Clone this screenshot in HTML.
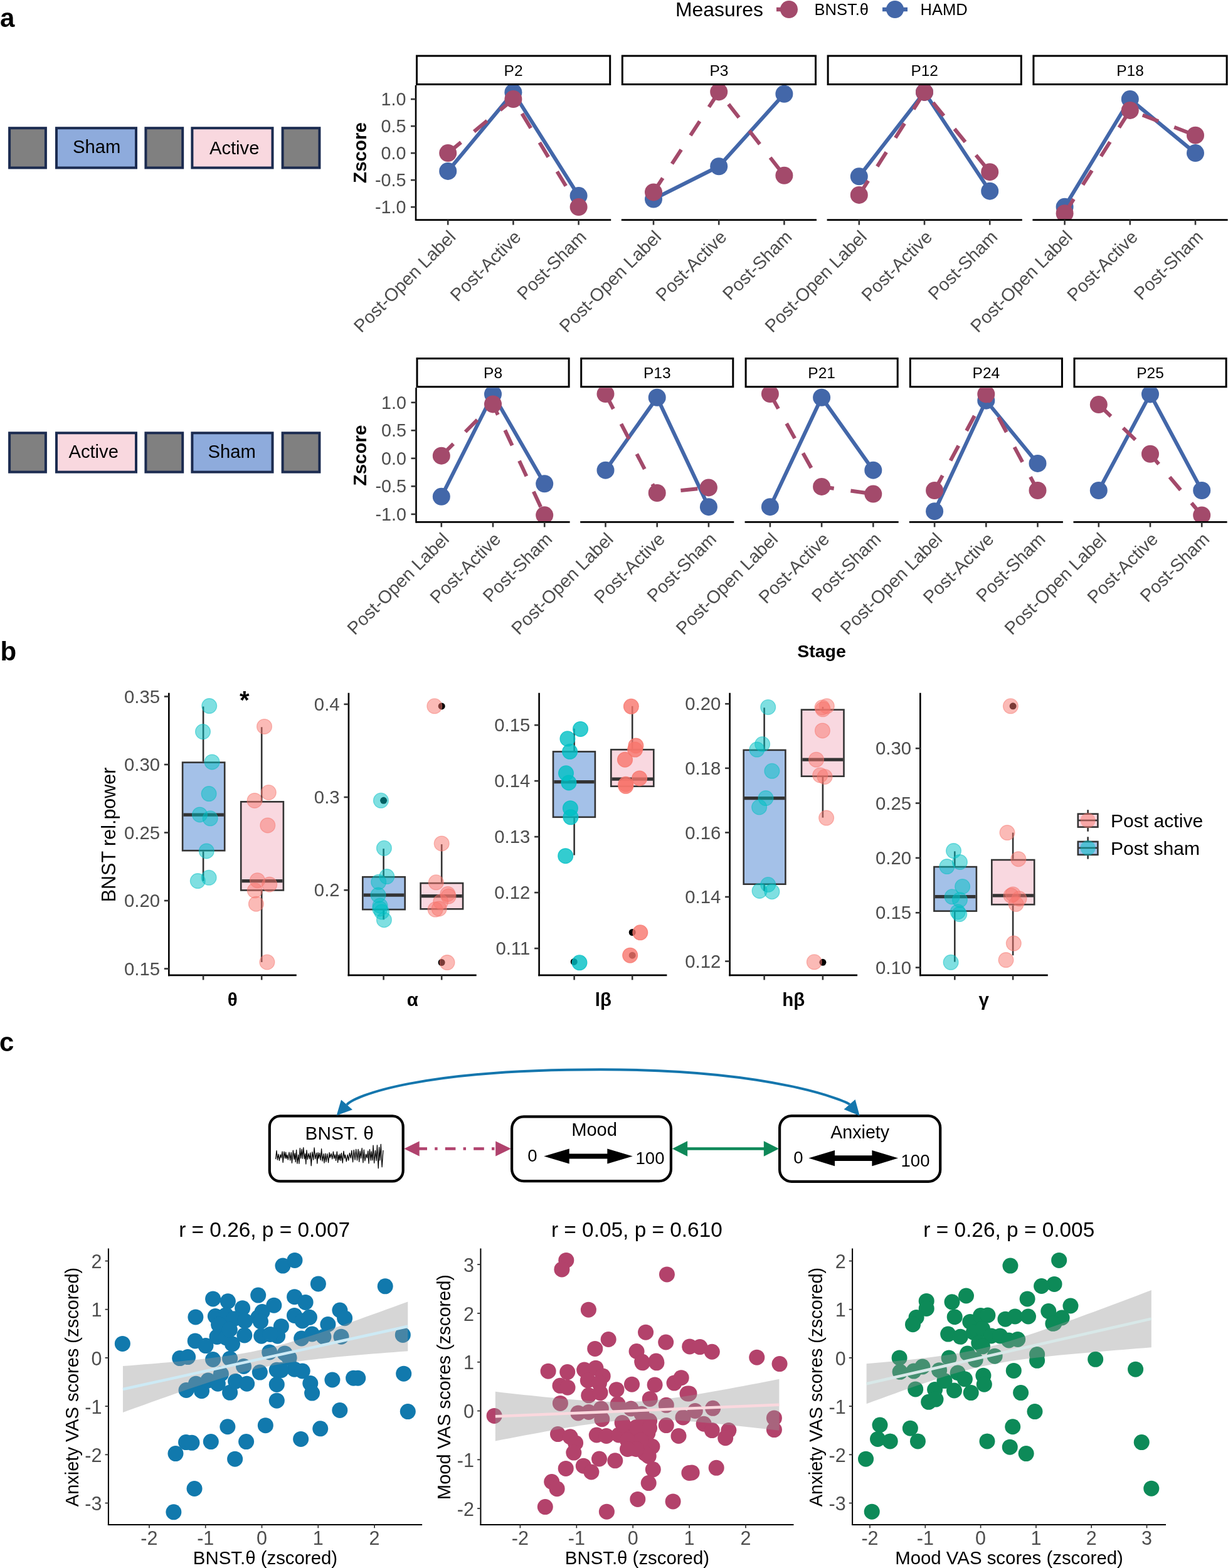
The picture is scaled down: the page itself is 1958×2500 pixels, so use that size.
<!DOCTYPE html>
<html><head><meta charset="utf-8"><style>
html,body{margin:0;padding:0;background:#fff;}
svg{display:block;}
text{font-family:'Liberation Sans', Arial, Helvetica, sans-serif;}
</style></head><body>
<svg width="1958" height="2500" viewBox="0 0 1958 2500">
<rect width="1958" height="2500" fill="#fff"/>
<text x="0" y="42.7" font-size="42" text-anchor="start" fill="#000" font-weight="bold">a</text>
<text x="0.5" y="1053.3" font-size="42" text-anchor="start" fill="#000" font-weight="bold">b</text>
<text x="-1" y="1676" font-size="42" text-anchor="start" fill="#000" font-weight="bold">c</text>
<rect x="15.1" y="204.2" width="57.8" height="63.3" fill="#808080" stroke="#1b2b50" stroke-width="4"/>
<rect x="90" y="204.2" width="127" height="63.3" fill="#8eabdc" stroke="#1b2b50" stroke-width="4"/>
<rect x="232.4" y="204.2" width="58.8" height="63.3" fill="#808080" stroke="#1b2b50" stroke-width="4"/>
<rect x="306.4" y="204.2" width="128.1" height="63.3" fill="#f9d8df" stroke="#1b2b50" stroke-width="4"/>
<rect x="450.6" y="204.2" width="58.8" height="63.3" fill="#808080" stroke="#1b2b50" stroke-width="4"/>
<rect x="15.1" y="690.3" width="57.8" height="62.3" fill="#808080" stroke="#1b2b50" stroke-width="4"/>
<rect x="90" y="690.3" width="127" height="62.3" fill="#f9d8df" stroke="#1b2b50" stroke-width="4"/>
<rect x="232.4" y="690.3" width="58.8" height="62.3" fill="#808080" stroke="#1b2b50" stroke-width="4"/>
<rect x="306.4" y="690.3" width="128.1" height="62.3" fill="#8eabdc" stroke="#1b2b50" stroke-width="4"/>
<rect x="450.6" y="690.3" width="58.8" height="62.3" fill="#808080" stroke="#1b2b50" stroke-width="4"/>
<text x="154.2" y="244" font-size="29.2" text-anchor="middle" fill="#000">Sham</text>
<text x="373.7" y="245.9" font-size="29.2" text-anchor="middle" fill="#000">Active</text>
<text x="149.2" y="730.1" font-size="29.2" text-anchor="middle" fill="#000">Active</text>
<text x="369.6" y="730.1" font-size="29.2" text-anchor="middle" fill="#000">Sham</text>
<text x="1077" y="25.8" font-size="31.9" text-anchor="start" fill="#000">Measures</text>
<line x1="1238" y1="15" x2="1266" y2="15" stroke="#a34a6b" stroke-width="6.5"/>
<circle cx="1258" cy="15" r="14" fill="#a34a6b"/>
<line x1="1407" y1="15" x2="1447" y2="15" stroke="#4367a9" stroke-width="6.5"/>
<circle cx="1427" cy="15" r="14" fill="#4367a9"/>
<text x="1298.5" y="24" font-size="25.5" text-anchor="start" fill="#000">BNST.θ</text>
<text x="1467.5" y="24" font-size="25.5" text-anchor="start" fill="#000">HAMD</text>
<rect x="664.5" y="89.1" width="308.2" height="45.4" fill="#fff" stroke="#000" stroke-width="3"/>
<text x="818.6" y="120.7" font-size="24.5" text-anchor="middle" fill="#000">P2</text>
<clipPath id="ca0"><rect x="663" y="136" width="311.2" height="214.6"/></clipPath>
<g clip-path="url(#ca0)">
<polyline points="714.2,272.91 818.4,147.26 922.6,312.04" fill="none" stroke="#4367a9" stroke-width="6"/>
<circle cx="714.2" cy="272.91" r="14" fill="#4367a9"/>
<circle cx="818.4" cy="147.26" r="14" fill="#4367a9"/>
<circle cx="922.6" cy="312.04" r="14" fill="#4367a9"/>
<polyline points="714.2,244.1 818.4,158.1 922.6,330.1" fill="none" stroke="#a34a6b" stroke-width="6" stroke-dasharray="27 27"/>
<circle cx="714.2" cy="244.1" r="14" fill="#a34a6b"/>
<circle cx="818.4" cy="158.1" r="14" fill="#a34a6b"/>
<circle cx="922.6" cy="330.1" r="14" fill="#a34a6b"/>
</g>
<line x1="663" y1="350.6" x2="974.2" y2="350.6" stroke="#000" stroke-width="2.6"/>
<line x1="714.2" y1="350.6" x2="714.2" y2="358.6" stroke="#333" stroke-width="2.6"/>
<text x="728.2" y="379.6" font-size="28.7" text-anchor="end" fill="#4d4d4d" transform="rotate(-45 728.2 379.6)">Post-Open Label</text>
<line x1="818.4" y1="350.6" x2="818.4" y2="358.6" stroke="#333" stroke-width="2.6"/>
<text x="832.4" y="379.6" font-size="28.7" text-anchor="end" fill="#4d4d4d" transform="rotate(-45 832.4 379.6)">Post-Active</text>
<line x1="922.6" y1="350.6" x2="922.6" y2="358.6" stroke="#333" stroke-width="2.6"/>
<text x="936.6" y="379.6" font-size="28.7" text-anchor="end" fill="#4d4d4d" transform="rotate(-45 936.6 379.6)">Post-Sham</text>
<rect x="992.3" y="89.1" width="308.2" height="45.4" fill="#fff" stroke="#000" stroke-width="3"/>
<text x="1146.4" y="120.7" font-size="24.5" text-anchor="middle" fill="#000">P3</text>
<clipPath id="ca1"><rect x="990.8" y="136" width="311.2" height="214.6"/></clipPath>
<g clip-path="url(#ca1)">
<polyline points="1042,317.54 1146.2,265.26 1250.4,149.76" fill="none" stroke="#4367a9" stroke-width="6"/>
<circle cx="1042" cy="317.54" r="14" fill="#4367a9"/>
<circle cx="1146.2" cy="265.26" r="14" fill="#4367a9"/>
<circle cx="1250.4" cy="149.76" r="14" fill="#4367a9"/>
<polyline points="1042,306.45 1146.2,146.4 1250.4,279.79" fill="none" stroke="#a34a6b" stroke-width="6" stroke-dasharray="27 27"/>
<circle cx="1042" cy="306.45" r="14" fill="#a34a6b"/>
<circle cx="1146.2" cy="146.4" r="14" fill="#a34a6b"/>
<circle cx="1250.4" cy="279.79" r="14" fill="#a34a6b"/>
</g>
<line x1="990.8" y1="350.6" x2="1302" y2="350.6" stroke="#000" stroke-width="2.6"/>
<line x1="1042" y1="350.6" x2="1042" y2="358.6" stroke="#333" stroke-width="2.6"/>
<text x="1056" y="379.6" font-size="28.7" text-anchor="end" fill="#4d4d4d" transform="rotate(-45 1056 379.6)">Post-Open Label</text>
<line x1="1146.2" y1="350.6" x2="1146.2" y2="358.6" stroke="#333" stroke-width="2.6"/>
<text x="1160.2" y="379.6" font-size="28.7" text-anchor="end" fill="#4d4d4d" transform="rotate(-45 1160.2 379.6)">Post-Active</text>
<line x1="1250.4" y1="350.6" x2="1250.4" y2="358.6" stroke="#333" stroke-width="2.6"/>
<text x="1264.4" y="379.6" font-size="28.7" text-anchor="end" fill="#4d4d4d" transform="rotate(-45 1264.4 379.6)">Post-Sham</text>
<rect x="1320.1" y="89.1" width="308.2" height="45.4" fill="#fff" stroke="#000" stroke-width="3"/>
<text x="1474.2" y="120.7" font-size="24.5" text-anchor="middle" fill="#000">P12</text>
<clipPath id="ca2"><rect x="1318.6" y="136" width="311.2" height="214.6"/></clipPath>
<g clip-path="url(#ca2)">
<polyline points="1369.8,281.34 1474,146.92 1578.2,304.64" fill="none" stroke="#4367a9" stroke-width="6"/>
<circle cx="1369.8" cy="281.34" r="14" fill="#4367a9"/>
<circle cx="1474" cy="146.92" r="14" fill="#4367a9"/>
<circle cx="1578.2" cy="304.64" r="14" fill="#4367a9"/>
<polyline points="1369.8,310.92 1474,146.92 1578.2,274.2" fill="none" stroke="#a34a6b" stroke-width="6" stroke-dasharray="27 27"/>
<circle cx="1369.8" cy="310.92" r="14" fill="#a34a6b"/>
<circle cx="1474" cy="146.92" r="14" fill="#a34a6b"/>
<circle cx="1578.2" cy="274.2" r="14" fill="#a34a6b"/>
</g>
<line x1="1318.6" y1="350.6" x2="1629.8" y2="350.6" stroke="#000" stroke-width="2.6"/>
<line x1="1369.8" y1="350.6" x2="1369.8" y2="358.6" stroke="#333" stroke-width="2.6"/>
<text x="1383.8" y="379.6" font-size="28.7" text-anchor="end" fill="#4d4d4d" transform="rotate(-45 1383.8 379.6)">Post-Open Label</text>
<line x1="1474" y1="350.6" x2="1474" y2="358.6" stroke="#333" stroke-width="2.6"/>
<text x="1488" y="379.6" font-size="28.7" text-anchor="end" fill="#4d4d4d" transform="rotate(-45 1488 379.6)">Post-Active</text>
<line x1="1578.2" y1="350.6" x2="1578.2" y2="358.6" stroke="#333" stroke-width="2.6"/>
<text x="1592.2" y="379.6" font-size="28.7" text-anchor="end" fill="#4d4d4d" transform="rotate(-45 1592.2 379.6)">Post-Sham</text>
<rect x="1647.9" y="89.1" width="308.2" height="45.4" fill="#fff" stroke="#000" stroke-width="3"/>
<text x="1802" y="120.7" font-size="24.5" text-anchor="middle" fill="#000">P18</text>
<clipPath id="ca3"><rect x="1646.4" y="136" width="311.2" height="214.6"/></clipPath>
<g clip-path="url(#ca3)">
<polyline points="1697.6,329.84 1801.8,158.1 1906,244.1" fill="none" stroke="#4367a9" stroke-width="6"/>
<circle cx="1697.6" cy="329.84" r="14" fill="#4367a9"/>
<circle cx="1801.8" cy="158.1" r="14" fill="#4367a9"/>
<circle cx="1906" cy="244.1" r="14" fill="#4367a9"/>
<polyline points="1697.6,340.25 1801.8,175.9 1906,215.72" fill="none" stroke="#a34a6b" stroke-width="6" stroke-dasharray="27 27"/>
<circle cx="1697.6" cy="340.25" r="14" fill="#a34a6b"/>
<circle cx="1801.8" cy="175.9" r="14" fill="#a34a6b"/>
<circle cx="1906" cy="215.72" r="14" fill="#a34a6b"/>
</g>
<line x1="1646.4" y1="350.6" x2="1957.6" y2="350.6" stroke="#000" stroke-width="2.6"/>
<line x1="1697.6" y1="350.6" x2="1697.6" y2="358.6" stroke="#333" stroke-width="2.6"/>
<text x="1711.6" y="379.6" font-size="28.7" text-anchor="end" fill="#4d4d4d" transform="rotate(-45 1711.6 379.6)">Post-Open Label</text>
<line x1="1801.8" y1="350.6" x2="1801.8" y2="358.6" stroke="#333" stroke-width="2.6"/>
<text x="1815.8" y="379.6" font-size="28.7" text-anchor="end" fill="#4d4d4d" transform="rotate(-45 1815.8 379.6)">Post-Active</text>
<line x1="1906" y1="350.6" x2="1906" y2="358.6" stroke="#333" stroke-width="2.6"/>
<text x="1920" y="379.6" font-size="28.7" text-anchor="end" fill="#4d4d4d" transform="rotate(-45 1920 379.6)">Post-Sham</text>
<line x1="663" y1="136" x2="663" y2="351.9" stroke="#000" stroke-width="2.6"/>
<line x1="655" y1="158.1" x2="663" y2="158.1" stroke="#333" stroke-width="2.6"/>
<text x="647.4" y="168.1" font-size="28.7" text-anchor="end" fill="#4d4d4d">1.0</text>
<line x1="655" y1="201.1" x2="663" y2="201.1" stroke="#333" stroke-width="2.6"/>
<text x="647.4" y="211.1" font-size="28.7" text-anchor="end" fill="#4d4d4d">0.5</text>
<line x1="655" y1="244.1" x2="663" y2="244.1" stroke="#333" stroke-width="2.6"/>
<text x="647.4" y="254.1" font-size="28.7" text-anchor="end" fill="#4d4d4d">0.0</text>
<line x1="655" y1="287.1" x2="663" y2="287.1" stroke="#333" stroke-width="2.6"/>
<text x="647.4" y="297.1" font-size="28.7" text-anchor="end" fill="#4d4d4d">-0.5</text>
<line x1="655" y1="330.1" x2="663" y2="330.1" stroke="#333" stroke-width="2.6"/>
<text x="647.4" y="340.1" font-size="28.7" text-anchor="end" fill="#4d4d4d">-1.0</text>
<rect x="665" y="571.6" width="242.1" height="45.1" fill="#fff" stroke="#000" stroke-width="3"/>
<text x="786.05" y="603.05" font-size="24.5" text-anchor="middle" fill="#000">P8</text>
<clipPath id="cb0"><rect x="663.5" y="618.2" width="245.1" height="214.2"/></clipPath>
<g clip-path="url(#cb0)">
<polyline points="703.8,791.8 786,628.48 868.2,771.23" fill="none" stroke="#4367a9" stroke-width="6"/>
<circle cx="703.8" cy="791.8" r="14" fill="#4367a9"/>
<circle cx="786" cy="628.48" r="14" fill="#4367a9"/>
<circle cx="868.2" cy="771.23" r="14" fill="#4367a9"/>
<polyline points="703.8,726.7 786,644.42 868.2,821.36" fill="none" stroke="#a34a6b" stroke-width="6" stroke-dasharray="27 27"/>
<circle cx="703.8" cy="726.7" r="14" fill="#a34a6b"/>
<circle cx="786" cy="644.42" r="14" fill="#a34a6b"/>
<circle cx="868.2" cy="821.36" r="14" fill="#a34a6b"/>
</g>
<line x1="663.5" y1="832.4" x2="908.6" y2="832.4" stroke="#000" stroke-width="2.6"/>
<line x1="703.8" y1="832.4" x2="703.8" y2="840.4" stroke="#333" stroke-width="2.6"/>
<text x="717.8" y="861.4" font-size="28.7" text-anchor="end" fill="#4d4d4d" transform="rotate(-45 717.8 861.4)">Post-Open Label</text>
<line x1="786" y1="832.4" x2="786" y2="840.4" stroke="#333" stroke-width="2.6"/>
<text x="800" y="861.4" font-size="28.7" text-anchor="end" fill="#4d4d4d" transform="rotate(-45 800 861.4)">Post-Active</text>
<line x1="868.2" y1="832.4" x2="868.2" y2="840.4" stroke="#333" stroke-width="2.6"/>
<text x="882.2" y="861.4" font-size="28.7" text-anchor="end" fill="#4d4d4d" transform="rotate(-45 882.2 861.4)">Post-Sham</text>
<rect x="926.7" y="571.6" width="242.1" height="45.1" fill="#fff" stroke="#000" stroke-width="3"/>
<text x="1047.75" y="603.05" font-size="24.5" text-anchor="middle" fill="#000">P13</text>
<clipPath id="cb1"><rect x="925.2" y="618.2" width="245.1" height="214.2"/></clipPath>
<g clip-path="url(#cb1)">
<polyline points="965.5,749.68 1047.7,633.74 1129.9,808.18" fill="none" stroke="#4367a9" stroke-width="6"/>
<circle cx="965.5" cy="749.68" r="14" fill="#4367a9"/>
<circle cx="1047.7" cy="633.74" r="14" fill="#4367a9"/>
<circle cx="1129.9" cy="808.18" r="14" fill="#4367a9"/>
<polyline points="965.5,628.04 1047.7,786.01 1129.9,777.46" fill="none" stroke="#a34a6b" stroke-width="6" stroke-dasharray="27 27"/>
<circle cx="965.5" cy="628.04" r="14" fill="#a34a6b"/>
<circle cx="1047.7" cy="786.01" r="14" fill="#a34a6b"/>
<circle cx="1129.9" cy="777.46" r="14" fill="#a34a6b"/>
</g>
<line x1="925.2" y1="832.4" x2="1170.3" y2="832.4" stroke="#000" stroke-width="2.6"/>
<line x1="965.5" y1="832.4" x2="965.5" y2="840.4" stroke="#333" stroke-width="2.6"/>
<text x="979.5" y="861.4" font-size="28.7" text-anchor="end" fill="#4d4d4d" transform="rotate(-45 979.5 861.4)">Post-Open Label</text>
<line x1="1047.7" y1="832.4" x2="1047.7" y2="840.4" stroke="#333" stroke-width="2.6"/>
<text x="1061.7" y="861.4" font-size="28.7" text-anchor="end" fill="#4d4d4d" transform="rotate(-45 1061.7 861.4)">Post-Active</text>
<line x1="1129.9" y1="832.4" x2="1129.9" y2="840.4" stroke="#333" stroke-width="2.6"/>
<text x="1143.9" y="861.4" font-size="28.7" text-anchor="end" fill="#4d4d4d" transform="rotate(-45 1143.9 861.4)">Post-Sham</text>
<rect x="1189.1" y="571.6" width="242.1" height="45.1" fill="#fff" stroke="#000" stroke-width="3"/>
<text x="1310.15" y="603.05" font-size="24.5" text-anchor="middle" fill="#000">P21</text>
<clipPath id="cb2"><rect x="1187.6" y="618.2" width="245.1" height="214.2"/></clipPath>
<g clip-path="url(#cb2)">
<polyline points="1227.9,808.18 1310.1,633.74 1392.3,749.68" fill="none" stroke="#4367a9" stroke-width="6"/>
<circle cx="1227.9" cy="808.18" r="14" fill="#4367a9"/>
<circle cx="1310.1" cy="633.74" r="14" fill="#4367a9"/>
<circle cx="1392.3" cy="749.68" r="14" fill="#4367a9"/>
<polyline points="1227.9,628.04 1310.1,775.95 1392.3,787.61" fill="none" stroke="#a34a6b" stroke-width="6" stroke-dasharray="27 27"/>
<circle cx="1227.9" cy="628.04" r="14" fill="#a34a6b"/>
<circle cx="1310.1" cy="775.95" r="14" fill="#a34a6b"/>
<circle cx="1392.3" cy="787.61" r="14" fill="#a34a6b"/>
</g>
<line x1="1187.6" y1="832.4" x2="1432.7" y2="832.4" stroke="#000" stroke-width="2.6"/>
<line x1="1227.9" y1="832.4" x2="1227.9" y2="840.4" stroke="#333" stroke-width="2.6"/>
<text x="1241.9" y="861.4" font-size="28.7" text-anchor="end" fill="#4d4d4d" transform="rotate(-45 1241.9 861.4)">Post-Open Label</text>
<line x1="1310.1" y1="832.4" x2="1310.1" y2="840.4" stroke="#333" stroke-width="2.6"/>
<text x="1324.1" y="861.4" font-size="28.7" text-anchor="end" fill="#4d4d4d" transform="rotate(-45 1324.1 861.4)">Post-Active</text>
<line x1="1392.3" y1="832.4" x2="1392.3" y2="840.4" stroke="#333" stroke-width="2.6"/>
<text x="1406.3" y="861.4" font-size="28.7" text-anchor="end" fill="#4d4d4d" transform="rotate(-45 1406.3 861.4)">Post-Sham</text>
<rect x="1451.3" y="571.6" width="242.1" height="45.1" fill="#fff" stroke="#000" stroke-width="3"/>
<text x="1572.35" y="603.05" font-size="24.5" text-anchor="middle" fill="#000">P24</text>
<clipPath id="cb3"><rect x="1449.8" y="618.2" width="245.1" height="214.2"/></clipPath>
<g clip-path="url(#cb3)">
<polyline points="1490.1,815.13 1572.3,638.72 1654.5,738.9" fill="none" stroke="#4367a9" stroke-width="6"/>
<circle cx="1490.1" cy="815.13" r="14" fill="#4367a9"/>
<circle cx="1572.3" cy="638.72" r="14" fill="#4367a9"/>
<circle cx="1654.5" cy="738.9" r="14" fill="#4367a9"/>
<polyline points="1490.1,782 1572.3,628.39 1654.5,782" fill="none" stroke="#a34a6b" stroke-width="6" stroke-dasharray="27 27"/>
<circle cx="1490.1" cy="782" r="14" fill="#a34a6b"/>
<circle cx="1572.3" cy="628.39" r="14" fill="#a34a6b"/>
<circle cx="1654.5" cy="782" r="14" fill="#a34a6b"/>
</g>
<line x1="1449.8" y1="832.4" x2="1694.9" y2="832.4" stroke="#000" stroke-width="2.6"/>
<line x1="1490.1" y1="832.4" x2="1490.1" y2="840.4" stroke="#333" stroke-width="2.6"/>
<text x="1504.1" y="861.4" font-size="28.7" text-anchor="end" fill="#4d4d4d" transform="rotate(-45 1504.1 861.4)">Post-Open Label</text>
<line x1="1572.3" y1="832.4" x2="1572.3" y2="840.4" stroke="#333" stroke-width="2.6"/>
<text x="1586.3" y="861.4" font-size="28.7" text-anchor="end" fill="#4d4d4d" transform="rotate(-45 1586.3 861.4)">Post-Active</text>
<line x1="1654.5" y1="832.4" x2="1654.5" y2="840.4" stroke="#333" stroke-width="2.6"/>
<text x="1668.5" y="861.4" font-size="28.7" text-anchor="end" fill="#4d4d4d" transform="rotate(-45 1668.5 861.4)">Post-Sham</text>
<rect x="1713" y="571.6" width="242.1" height="45.1" fill="#fff" stroke="#000" stroke-width="3"/>
<text x="1834.05" y="603.05" font-size="24.5" text-anchor="middle" fill="#000">P25</text>
<clipPath id="cb4"><rect x="1711.5" y="618.2" width="245.1" height="214.2"/></clipPath>
<g clip-path="url(#cb4)">
<polyline points="1751.8,782 1834,628.39 1916.2,782" fill="none" stroke="#4367a9" stroke-width="6"/>
<circle cx="1751.8" cy="782" r="14" fill="#4367a9"/>
<circle cx="1834" cy="628.39" r="14" fill="#4367a9"/>
<circle cx="1916.2" cy="782" r="14" fill="#4367a9"/>
<polyline points="1751.8,645.04 1834,723.77 1916.2,821.45" fill="none" stroke="#a34a6b" stroke-width="6" stroke-dasharray="27 27"/>
<circle cx="1751.8" cy="645.04" r="14" fill="#a34a6b"/>
<circle cx="1834" cy="723.77" r="14" fill="#a34a6b"/>
<circle cx="1916.2" cy="821.45" r="14" fill="#a34a6b"/>
</g>
<line x1="1711.5" y1="832.4" x2="1956.6" y2="832.4" stroke="#000" stroke-width="2.6"/>
<line x1="1751.8" y1="832.4" x2="1751.8" y2="840.4" stroke="#333" stroke-width="2.6"/>
<text x="1765.8" y="861.4" font-size="28.7" text-anchor="end" fill="#4d4d4d" transform="rotate(-45 1765.8 861.4)">Post-Open Label</text>
<line x1="1834" y1="832.4" x2="1834" y2="840.4" stroke="#333" stroke-width="2.6"/>
<text x="1848" y="861.4" font-size="28.7" text-anchor="end" fill="#4d4d4d" transform="rotate(-45 1848 861.4)">Post-Active</text>
<line x1="1916.2" y1="832.4" x2="1916.2" y2="840.4" stroke="#333" stroke-width="2.6"/>
<text x="1930.2" y="861.4" font-size="28.7" text-anchor="end" fill="#4d4d4d" transform="rotate(-45 1930.2 861.4)">Post-Sham</text>
<line x1="663.5" y1="618.2" x2="663.5" y2="833.7" stroke="#000" stroke-width="2.6"/>
<line x1="655.5" y1="641.75" x2="663.5" y2="641.75" stroke="#333" stroke-width="2.6"/>
<text x="647.9" y="651.75" font-size="28.7" text-anchor="end" fill="#4d4d4d">1.0</text>
<line x1="655.5" y1="686.27" x2="663.5" y2="686.27" stroke="#333" stroke-width="2.6"/>
<text x="647.9" y="696.27" font-size="28.7" text-anchor="end" fill="#4d4d4d">0.5</text>
<line x1="655.5" y1="730.8" x2="663.5" y2="730.8" stroke="#333" stroke-width="2.6"/>
<text x="647.9" y="740.8" font-size="28.7" text-anchor="end" fill="#4d4d4d">0.0</text>
<line x1="655.5" y1="775.32" x2="663.5" y2="775.32" stroke="#333" stroke-width="2.6"/>
<text x="647.9" y="785.32" font-size="28.7" text-anchor="end" fill="#4d4d4d">-0.5</text>
<line x1="655.5" y1="819.85" x2="663.5" y2="819.85" stroke="#333" stroke-width="2.6"/>
<text x="647.9" y="829.85" font-size="28.7" text-anchor="end" fill="#4d4d4d">-1.0</text>
<text x="584" y="243.5" font-size="29.5" text-anchor="middle" fill="#000" font-weight="bold" transform="rotate(-90 584 243.5)">Zscore</text>
<text x="584" y="726" font-size="29.5" text-anchor="middle" fill="#000" font-weight="bold" transform="rotate(-90 584 726)">Zscore</text>
<text x="1310" y="1048" font-size="28.5" text-anchor="middle" fill="#000" font-weight="bold">Stage</text>
<line x1="324.1" y1="1126.5" x2="324.1" y2="1214.3" stroke="#333333" stroke-width="2.6"/>
<line x1="324.1" y1="1357.5" x2="324.1" y2="1404.6" stroke="#333333" stroke-width="2.6"/>
<rect x="291.1" y="1215.6" width="67.1" height="140.6" fill="#a4c1e8" stroke="#333333" stroke-width="2.6"/>
<line x1="292.4" y1="1299.2" x2="356.9" y2="1299.2" stroke="#333333" stroke-width="5.2"/>
<line x1="417.2" y1="1159.3" x2="417.2" y2="1277" stroke="#333333" stroke-width="2.6"/>
<line x1="417.2" y1="1420.7" x2="417.2" y2="1534" stroke="#333333" stroke-width="2.6"/>
<rect x="384.2" y="1278.3" width="67.7" height="141.1" fill="#f9d8e0" stroke="#333333" stroke-width="2.6"/>
<line x1="385.5" y1="1404.6" x2="450.6" y2="1404.6" stroke="#333333" stroke-width="5.2"/>
<circle cx="333.7" cy="1125.6" r="11.85" fill="#00bfc4" fill-opacity="0.5" stroke="#00bfc4" stroke-opacity="0.5" stroke-width="1.3"/>
<circle cx="323.5" cy="1166.6" r="11.85" fill="#00bfc4" fill-opacity="0.5" stroke="#00bfc4" stroke-opacity="0.5" stroke-width="1.3"/>
<circle cx="338.1" cy="1214.9" r="11.85" fill="#00bfc4" fill-opacity="0.5" stroke="#00bfc4" stroke-opacity="0.5" stroke-width="1.3"/>
<circle cx="333.1" cy="1265.6" r="11.85" fill="#00bfc4" fill-opacity="0.5" stroke="#00bfc4" stroke-opacity="0.5" stroke-width="1.3"/>
<circle cx="318.5" cy="1298.9" r="11.85" fill="#00bfc4" fill-opacity="0.5" stroke="#00bfc4" stroke-opacity="0.5" stroke-width="1.3"/>
<circle cx="335.2" cy="1304.8" r="11.85" fill="#00bfc4" fill-opacity="0.5" stroke="#00bfc4" stroke-opacity="0.5" stroke-width="1.3"/>
<circle cx="329.3" cy="1356.9" r="11.85" fill="#00bfc4" fill-opacity="0.5" stroke="#00bfc4" stroke-opacity="0.5" stroke-width="1.3"/>
<circle cx="333.1" cy="1399.3" r="11.85" fill="#00bfc4" fill-opacity="0.5" stroke="#00bfc4" stroke-opacity="0.5" stroke-width="1.3"/>
<circle cx="315.3" cy="1404.6" r="11.85" fill="#00bfc4" fill-opacity="0.5" stroke="#00bfc4" stroke-opacity="0.5" stroke-width="1.3"/>
<circle cx="421.5" cy="1158.4" r="11.85" fill="#f8766d" fill-opacity="0.5" stroke="#f8766d" stroke-opacity="0.5" stroke-width="1.3"/>
<circle cx="428.3" cy="1263.5" r="11.85" fill="#f8766d" fill-opacity="0.5" stroke="#f8766d" stroke-opacity="0.5" stroke-width="1.3"/>
<circle cx="406" cy="1276.4" r="11.85" fill="#f8766d" fill-opacity="0.5" stroke="#f8766d" stroke-opacity="0.5" stroke-width="1.3"/>
<circle cx="426.8" cy="1315.9" r="11.85" fill="#f8766d" fill-opacity="0.5" stroke="#f8766d" stroke-opacity="0.5" stroke-width="1.3"/>
<circle cx="410.4" cy="1403.7" r="11.85" fill="#f8766d" fill-opacity="0.5" stroke="#f8766d" stroke-opacity="0.5" stroke-width="1.3"/>
<circle cx="429.7" cy="1410.2" r="11.85" fill="#f8766d" fill-opacity="0.5" stroke="#f8766d" stroke-opacity="0.5" stroke-width="1.3"/>
<circle cx="406.3" cy="1419.8" r="11.85" fill="#f8766d" fill-opacity="0.5" stroke="#f8766d" stroke-opacity="0.5" stroke-width="1.3"/>
<circle cx="408.4" cy="1441.2" r="11.85" fill="#f8766d" fill-opacity="0.5" stroke="#f8766d" stroke-opacity="0.5" stroke-width="1.3"/>
<circle cx="425.9" cy="1534" r="11.85" fill="#f8766d" fill-opacity="0.5" stroke="#f8766d" stroke-opacity="0.5" stroke-width="1.3"/>
<line x1="269.3" y1="1104.8" x2="269.3" y2="1556.2" stroke="#000" stroke-width="2.6"/>
<line x1="268" y1="1554.9" x2="472.8" y2="1554.9" stroke="#000" stroke-width="2.6"/>
<line x1="324.1" y1="1554.9" x2="324.1" y2="1562.4" stroke="#333" stroke-width="2.6"/>
<line x1="417.2" y1="1554.9" x2="417.2" y2="1562.4" stroke="#333" stroke-width="2.6"/>
<line x1="261.8" y1="1544.5" x2="269.3" y2="1544.5" stroke="#333" stroke-width="2.6"/>
<text x="255" y="1554.7" font-size="29.3" text-anchor="end" fill="#4d4d4d">0.15</text>
<line x1="261.8" y1="1436" x2="269.3" y2="1436" stroke="#333" stroke-width="2.6"/>
<text x="255" y="1446.2" font-size="29.3" text-anchor="end" fill="#4d4d4d">0.20</text>
<line x1="261.8" y1="1327.5" x2="269.3" y2="1327.5" stroke="#333" stroke-width="2.6"/>
<text x="255" y="1337.7" font-size="29.3" text-anchor="end" fill="#4d4d4d">0.25</text>
<line x1="261.8" y1="1219" x2="269.3" y2="1219" stroke="#333" stroke-width="2.6"/>
<text x="255" y="1229.2" font-size="29.3" text-anchor="end" fill="#4d4d4d">0.30</text>
<line x1="261.8" y1="1110.5" x2="269.3" y2="1110.5" stroke="#333" stroke-width="2.6"/>
<text x="255" y="1120.7" font-size="29.3" text-anchor="end" fill="#4d4d4d">0.35</text>
<text x="370.65" y="1604" font-size="29.5" text-anchor="middle" fill="#000" font-weight="bold">θ</text>
<line x1="611.6" y1="1353.1" x2="611.6" y2="1396.9" stroke="#333333" stroke-width="2.6"/>
<line x1="611.6" y1="1451.4" x2="611.6" y2="1466.2" stroke="#333333" stroke-width="2.6"/>
<rect x="578.3" y="1398.2" width="67.4" height="51.9" fill="#a4c1e8" stroke="#333333" stroke-width="2.6"/>
<line x1="579.6" y1="1427.1" x2="644.4" y2="1427.1" stroke="#333333" stroke-width="5.2"/>
<line x1="704.2" y1="1346.1" x2="704.2" y2="1406.8" stroke="#333333" stroke-width="2.6"/>
<line x1="704.2" y1="1450.6" x2="704.2" y2="1450.6" stroke="#333333" stroke-width="2.6"/>
<rect x="670.6" y="1408.1" width="67.5" height="41.2" fill="#f9d8e0" stroke="#333333" stroke-width="2.6"/>
<line x1="671.9" y1="1428.6" x2="736.8" y2="1428.6" stroke="#333333" stroke-width="5.2"/>
<circle cx="611.6" cy="1276.3" r="5.5" fill="#000"/>
<circle cx="704.2" cy="1125.9" r="5.5" fill="#000"/>
<circle cx="704.1" cy="1534.5" r="5.5" fill="#000"/>
<circle cx="607.4" cy="1276.3" r="11.85" fill="#00bfc4" fill-opacity="0.5" stroke="#00bfc4" stroke-opacity="0.5" stroke-width="1.3"/>
<circle cx="612.4" cy="1352.3" r="11.85" fill="#00bfc4" fill-opacity="0.5" stroke="#00bfc4" stroke-opacity="0.5" stroke-width="1.3"/>
<circle cx="616.8" cy="1397.6" r="11.85" fill="#00bfc4" fill-opacity="0.5" stroke="#00bfc4" stroke-opacity="0.5" stroke-width="1.3"/>
<circle cx="603.7" cy="1406.3" r="11.85" fill="#00bfc4" fill-opacity="0.5" stroke="#00bfc4" stroke-opacity="0.5" stroke-width="1.3"/>
<circle cx="603" cy="1427.1" r="11.85" fill="#00bfc4" fill-opacity="0.5" stroke="#00bfc4" stroke-opacity="0.5" stroke-width="1.3"/>
<circle cx="605.7" cy="1448.9" r="11.85" fill="#00bfc4" fill-opacity="0.5" stroke="#00bfc4" stroke-opacity="0.5" stroke-width="1.3"/>
<circle cx="608.6" cy="1453.9" r="11.85" fill="#00bfc4" fill-opacity="0.5" stroke="#00bfc4" stroke-opacity="0.5" stroke-width="1.3"/>
<circle cx="612.4" cy="1466.7" r="11.85" fill="#00bfc4" fill-opacity="0.5" stroke="#00bfc4" stroke-opacity="0.5" stroke-width="1.3"/>
<circle cx="606" cy="1444" r="11.85" fill="#00bfc4" fill-opacity="0.5" stroke="#00bfc4" stroke-opacity="0.5" stroke-width="1.3"/>
<circle cx="692.8" cy="1125.8" r="11.85" fill="#f8766d" fill-opacity="0.5" stroke="#f8766d" stroke-opacity="0.5" stroke-width="1.3"/>
<circle cx="704.2" cy="1344.9" r="11.85" fill="#f8766d" fill-opacity="0.5" stroke="#f8766d" stroke-opacity="0.5" stroke-width="1.3"/>
<circle cx="695.3" cy="1406.8" r="11.85" fill="#f8766d" fill-opacity="0.5" stroke="#f8766d" stroke-opacity="0.5" stroke-width="1.3"/>
<circle cx="713.9" cy="1425.4" r="11.85" fill="#f8766d" fill-opacity="0.5" stroke="#f8766d" stroke-opacity="0.5" stroke-width="1.3"/>
<circle cx="715.1" cy="1429.1" r="11.85" fill="#f8766d" fill-opacity="0.5" stroke="#f8766d" stroke-opacity="0.5" stroke-width="1.3"/>
<circle cx="702.7" cy="1437.8" r="11.85" fill="#f8766d" fill-opacity="0.5" stroke="#f8766d" stroke-opacity="0.5" stroke-width="1.3"/>
<circle cx="694.1" cy="1450.1" r="11.85" fill="#f8766d" fill-opacity="0.5" stroke="#f8766d" stroke-opacity="0.5" stroke-width="1.3"/>
<circle cx="700.2" cy="1448.9" r="11.85" fill="#f8766d" fill-opacity="0.5" stroke="#f8766d" stroke-opacity="0.5" stroke-width="1.3"/>
<circle cx="713" cy="1534.6" r="11.85" fill="#f8766d" fill-opacity="0.5" stroke="#f8766d" stroke-opacity="0.5" stroke-width="1.3"/>
<line x1="555.9" y1="1104.8" x2="555.9" y2="1556.2" stroke="#000" stroke-width="2.6"/>
<line x1="554.6" y1="1554.9" x2="759.7" y2="1554.9" stroke="#000" stroke-width="2.6"/>
<line x1="611.6" y1="1554.9" x2="611.6" y2="1562.4" stroke="#333" stroke-width="2.6"/>
<line x1="704.2" y1="1554.9" x2="704.2" y2="1562.4" stroke="#333" stroke-width="2.6"/>
<line x1="548.4" y1="1419.2" x2="555.9" y2="1419.2" stroke="#333" stroke-width="2.6"/>
<text x="541.6" y="1429.4" font-size="29.3" text-anchor="end" fill="#4d4d4d">0.2</text>
<line x1="548.4" y1="1271" x2="555.9" y2="1271" stroke="#333" stroke-width="2.6"/>
<text x="541.6" y="1281.2" font-size="29.3" text-anchor="end" fill="#4d4d4d">0.3</text>
<line x1="548.4" y1="1122.8" x2="555.9" y2="1122.8" stroke="#333" stroke-width="2.6"/>
<text x="541.6" y="1133" font-size="29.3" text-anchor="end" fill="#4d4d4d">0.4</text>
<text x="657.9" y="1604" font-size="29.5" text-anchor="middle" fill="#000" font-weight="bold">α</text>
<line x1="915.6" y1="1161.7" x2="915.6" y2="1197.1" stroke="#333333" stroke-width="2.6"/>
<line x1="915.6" y1="1304.1" x2="915.6" y2="1363.5" stroke="#333333" stroke-width="2.6"/>
<rect x="882" y="1198.4" width="66.9" height="104.4" fill="#a4c1e8" stroke="#333333" stroke-width="2.6"/>
<line x1="883.3" y1="1246.6" x2="947.6" y2="1246.6" stroke="#333333" stroke-width="5.2"/>
<line x1="1008.2" y1="1125.8" x2="1008.2" y2="1193.9" stroke="#333333" stroke-width="2.6"/>
<line x1="1008.2" y1="1255" x2="1008.2" y2="1255" stroke="#333333" stroke-width="2.6"/>
<rect x="974.3" y="1195.2" width="68" height="58.5" fill="#f9d8e0" stroke="#333333" stroke-width="2.6"/>
<line x1="975.6" y1="1242.2" x2="1041" y2="1242.2" stroke="#333333" stroke-width="5.2"/>
<circle cx="915.2" cy="1533.4" r="5.5" fill="#000"/>
<circle cx="1008.2" cy="1486.5" r="5.5" fill="#000"/>
<circle cx="1008.2" cy="1523.2" r="5.5" fill="#000"/>
<circle cx="925.5" cy="1162.4" r="11.85" fill="#00bfc4" fill-opacity="0.8" stroke="#00bfc4" stroke-opacity="0.8" stroke-width="1.3"/>
<circle cx="904.9" cy="1177.8" r="11.85" fill="#00bfc4" fill-opacity="0.8" stroke="#00bfc4" stroke-opacity="0.8" stroke-width="1.3"/>
<circle cx="908.6" cy="1198.3" r="11.85" fill="#00bfc4" fill-opacity="0.8" stroke="#00bfc4" stroke-opacity="0.8" stroke-width="1.3"/>
<circle cx="902.5" cy="1232.8" r="11.85" fill="#00bfc4" fill-opacity="0.8" stroke="#00bfc4" stroke-opacity="0.8" stroke-width="1.3"/>
<circle cx="906.9" cy="1247.9" r="11.85" fill="#00bfc4" fill-opacity="0.8" stroke="#00bfc4" stroke-opacity="0.8" stroke-width="1.3"/>
<circle cx="909.4" cy="1288.7" r="11.85" fill="#00bfc4" fill-opacity="0.8" stroke="#00bfc4" stroke-opacity="0.8" stroke-width="1.3"/>
<circle cx="909.9" cy="1302.8" r="11.85" fill="#00bfc4" fill-opacity="0.8" stroke="#00bfc4" stroke-opacity="0.8" stroke-width="1.3"/>
<circle cx="901.7" cy="1364.7" r="11.85" fill="#00bfc4" fill-opacity="0.8" stroke="#00bfc4" stroke-opacity="0.8" stroke-width="1.3"/>
<circle cx="924" cy="1534.8" r="11.85" fill="#00bfc4" fill-opacity="0.8" stroke="#00bfc4" stroke-opacity="0.8" stroke-width="1.3"/>
<circle cx="1006.4" cy="1126.3" r="11.85" fill="#f8766d" fill-opacity="0.8" stroke="#f8766d" stroke-opacity="0.8" stroke-width="1.3"/>
<circle cx="1013.9" cy="1188.9" r="11.85" fill="#f8766d" fill-opacity="0.8" stroke="#f8766d" stroke-opacity="0.8" stroke-width="1.3"/>
<circle cx="1012.6" cy="1195.1" r="11.85" fill="#f8766d" fill-opacity="0.8" stroke="#f8766d" stroke-opacity="0.8" stroke-width="1.3"/>
<circle cx="996.5" cy="1211.2" r="11.85" fill="#f8766d" fill-opacity="0.8" stroke="#f8766d" stroke-opacity="0.8" stroke-width="1.3"/>
<circle cx="1019.6" cy="1240.9" r="11.85" fill="#f8766d" fill-opacity="0.8" stroke="#f8766d" stroke-opacity="0.8" stroke-width="1.3"/>
<circle cx="997.8" cy="1250.3" r="11.85" fill="#f8766d" fill-opacity="0.8" stroke="#f8766d" stroke-opacity="0.8" stroke-width="1.3"/>
<circle cx="997.8" cy="1253.3" r="11.85" fill="#f8766d" fill-opacity="0.8" stroke="#f8766d" stroke-opacity="0.8" stroke-width="1.3"/>
<circle cx="1020.8" cy="1486.8" r="11.85" fill="#f8766d" fill-opacity="0.8" stroke="#f8766d" stroke-opacity="0.8" stroke-width="1.3"/>
<circle cx="1004.7" cy="1523.2" r="11.85" fill="#f8766d" fill-opacity="0.8" stroke="#f8766d" stroke-opacity="0.8" stroke-width="1.3"/>
<line x1="859.6" y1="1104.8" x2="859.6" y2="1556.2" stroke="#000" stroke-width="2.6"/>
<line x1="858.3" y1="1554.9" x2="1063.4" y2="1554.9" stroke="#000" stroke-width="2.6"/>
<line x1="915.6" y1="1554.9" x2="915.6" y2="1562.4" stroke="#333" stroke-width="2.6"/>
<line x1="1008.2" y1="1554.9" x2="1008.2" y2="1562.4" stroke="#333" stroke-width="2.6"/>
<line x1="852.1" y1="1512.1" x2="859.6" y2="1512.1" stroke="#333" stroke-width="2.6"/>
<text x="845.3" y="1522.3" font-size="29.3" text-anchor="end" fill="#4d4d4d">0.11</text>
<line x1="852.1" y1="1423.1" x2="859.6" y2="1423.1" stroke="#333" stroke-width="2.6"/>
<text x="845.3" y="1433.3" font-size="29.3" text-anchor="end" fill="#4d4d4d">0.12</text>
<line x1="852.1" y1="1334.1" x2="859.6" y2="1334.1" stroke="#333" stroke-width="2.6"/>
<text x="845.3" y="1344.3" font-size="29.3" text-anchor="end" fill="#4d4d4d">0.13</text>
<line x1="852.1" y1="1245.1" x2="859.6" y2="1245.1" stroke="#333" stroke-width="2.6"/>
<text x="845.3" y="1255.3" font-size="29.3" text-anchor="end" fill="#4d4d4d">0.14</text>
<line x1="852.1" y1="1156.1" x2="859.6" y2="1156.1" stroke="#333" stroke-width="2.6"/>
<text x="845.3" y="1166.3" font-size="29.3" text-anchor="end" fill="#4d4d4d">0.15</text>
<text x="961.9" y="1604" font-size="29.5" text-anchor="middle" fill="#000" font-weight="bold">lβ</text>
<line x1="1218.6" y1="1128.3" x2="1218.6" y2="1194.6" stroke="#333333" stroke-width="2.6"/>
<line x1="1218.6" y1="1411" x2="1218.6" y2="1420.4" stroke="#333333" stroke-width="2.6"/>
<rect x="1185.7" y="1195.9" width="66.7" height="213.8" fill="#a4c1e8" stroke="#333333" stroke-width="2.6"/>
<line x1="1187" y1="1272.6" x2="1251.1" y2="1272.6" stroke="#333333" stroke-width="5.2"/>
<line x1="1311.9" y1="1127" x2="1311.9" y2="1130.3" stroke="#333333" stroke-width="2.6"/>
<line x1="1311.9" y1="1239" x2="1311.9" y2="1303.6" stroke="#333333" stroke-width="2.6"/>
<rect x="1278" y="1131.6" width="67.5" height="106.1" fill="#f9d8e0" stroke="#333333" stroke-width="2.6"/>
<line x1="1279.3" y1="1211.2" x2="1344.2" y2="1211.2" stroke="#333333" stroke-width="5.2"/>
<circle cx="1311.9" cy="1534.3" r="5.5" fill="#000"/>
<circle cx="1224.7" cy="1127.5" r="11.85" fill="#00bfc4" fill-opacity="0.5" stroke="#00bfc4" stroke-opacity="0.5" stroke-width="1.3"/>
<circle cx="1215.6" cy="1186.5" r="11.85" fill="#00bfc4" fill-opacity="0.5" stroke="#00bfc4" stroke-opacity="0.5" stroke-width="1.3"/>
<circle cx="1206.9" cy="1195.1" r="11.85" fill="#00bfc4" fill-opacity="0.5" stroke="#00bfc4" stroke-opacity="0.5" stroke-width="1.3"/>
<circle cx="1230.9" cy="1229.3" r="11.85" fill="#00bfc4" fill-opacity="0.5" stroke="#00bfc4" stroke-opacity="0.5" stroke-width="1.3"/>
<circle cx="1221" cy="1272.6" r="11.85" fill="#00bfc4" fill-opacity="0.5" stroke="#00bfc4" stroke-opacity="0.5" stroke-width="1.3"/>
<circle cx="1210.6" cy="1287" r="11.85" fill="#00bfc4" fill-opacity="0.5" stroke="#00bfc4" stroke-opacity="0.5" stroke-width="1.3"/>
<circle cx="1224.7" cy="1410.5" r="11.85" fill="#00bfc4" fill-opacity="0.5" stroke="#00bfc4" stroke-opacity="0.5" stroke-width="1.3"/>
<circle cx="1211.1" cy="1420.4" r="11.85" fill="#00bfc4" fill-opacity="0.5" stroke="#00bfc4" stroke-opacity="0.5" stroke-width="1.3"/>
<circle cx="1230.9" cy="1421.7" r="11.85" fill="#00bfc4" fill-opacity="0.5" stroke="#00bfc4" stroke-opacity="0.5" stroke-width="1.3"/>
<circle cx="1318.3" cy="1125.8" r="11.85" fill="#f8766d" fill-opacity="0.5" stroke="#f8766d" stroke-opacity="0.5" stroke-width="1.3"/>
<circle cx="1312.1" cy="1130.8" r="11.85" fill="#f8766d" fill-opacity="0.5" stroke="#f8766d" stroke-opacity="0.5" stroke-width="1.3"/>
<circle cx="1311.4" cy="1164.9" r="11.85" fill="#f8766d" fill-opacity="0.5" stroke="#f8766d" stroke-opacity="0.5" stroke-width="1.3"/>
<circle cx="1301.5" cy="1211.2" r="11.85" fill="#f8766d" fill-opacity="0.5" stroke="#f8766d" stroke-opacity="0.5" stroke-width="1.3"/>
<circle cx="1307.7" cy="1236" r="11.85" fill="#f8766d" fill-opacity="0.5" stroke="#f8766d" stroke-opacity="0.5" stroke-width="1.3"/>
<circle cx="1315.1" cy="1238.5" r="11.85" fill="#f8766d" fill-opacity="0.5" stroke="#f8766d" stroke-opacity="0.5" stroke-width="1.3"/>
<circle cx="1317.6" cy="1304.1" r="11.85" fill="#f8766d" fill-opacity="0.5" stroke="#f8766d" stroke-opacity="0.5" stroke-width="1.3"/>
<circle cx="1298.3" cy="1533.8" r="11.85" fill="#f8766d" fill-opacity="0.5" stroke="#f8766d" stroke-opacity="0.5" stroke-width="1.3"/>
<circle cx="1311" cy="1128" r="11.85" fill="#f8766d" fill-opacity="0.5" stroke="#f8766d" stroke-opacity="0.5" stroke-width="1.3"/>
<line x1="1163.6" y1="1104.8" x2="1163.6" y2="1556.2" stroke="#000" stroke-width="2.6"/>
<line x1="1162.3" y1="1554.9" x2="1367.1" y2="1554.9" stroke="#000" stroke-width="2.6"/>
<line x1="1218.6" y1="1554.9" x2="1218.6" y2="1562.4" stroke="#333" stroke-width="2.6"/>
<line x1="1311.9" y1="1554.9" x2="1311.9" y2="1562.4" stroke="#333" stroke-width="2.6"/>
<line x1="1156.1" y1="1532.6" x2="1163.6" y2="1532.6" stroke="#333" stroke-width="2.6"/>
<text x="1149.3" y="1542.8" font-size="29.3" text-anchor="end" fill="#4d4d4d">0.12</text>
<line x1="1156.1" y1="1430" x2="1163.6" y2="1430" stroke="#333" stroke-width="2.6"/>
<text x="1149.3" y="1440.2" font-size="29.3" text-anchor="end" fill="#4d4d4d">0.14</text>
<line x1="1156.1" y1="1327.4" x2="1163.6" y2="1327.4" stroke="#333" stroke-width="2.6"/>
<text x="1149.3" y="1337.6" font-size="29.3" text-anchor="end" fill="#4d4d4d">0.16</text>
<line x1="1156.1" y1="1224.8" x2="1163.6" y2="1224.8" stroke="#333" stroke-width="2.6"/>
<text x="1149.3" y="1235" font-size="29.3" text-anchor="end" fill="#4d4d4d">0.18</text>
<line x1="1156.1" y1="1122.2" x2="1163.6" y2="1122.2" stroke="#333" stroke-width="2.6"/>
<text x="1149.3" y="1132.4" font-size="29.3" text-anchor="end" fill="#4d4d4d">0.20</text>
<text x="1265.25" y="1604" font-size="29.5" text-anchor="middle" fill="#000" font-weight="bold">hβ</text>
<line x1="1522.3" y1="1357.3" x2="1522.3" y2="1380.8" stroke="#333333" stroke-width="2.6"/>
<line x1="1522.3" y1="1453.9" x2="1522.3" y2="1533.6" stroke="#333333" stroke-width="2.6"/>
<rect x="1489.4" y="1382.1" width="67.5" height="70.5" fill="#a4c1e8" stroke="#333333" stroke-width="2.6"/>
<line x1="1490.7" y1="1429.6" x2="1555.6" y2="1429.6" stroke="#333333" stroke-width="5.2"/>
<line x1="1615.1" y1="1327.6" x2="1615.1" y2="1369.7" stroke="#333333" stroke-width="2.6"/>
<line x1="1615.1" y1="1443.5" x2="1615.1" y2="1523.2" stroke="#333333" stroke-width="2.6"/>
<rect x="1581.3" y="1371" width="67.9" height="71.2" fill="#f9d8e0" stroke="#333333" stroke-width="2.6"/>
<line x1="1582.6" y1="1427.9" x2="1647.9" y2="1427.9" stroke="#333333" stroke-width="5.2"/>
<circle cx="1615.1" cy="1125.8" r="5.5" fill="#000"/>
<circle cx="1520.5" cy="1356.6" r="11.85" fill="#00bfc4" fill-opacity="0.5" stroke="#00bfc4" stroke-opacity="0.5" stroke-width="1.3"/>
<circle cx="1530.4" cy="1374.6" r="11.85" fill="#00bfc4" fill-opacity="0.5" stroke="#00bfc4" stroke-opacity="0.5" stroke-width="1.3"/>
<circle cx="1509.9" cy="1381.6" r="11.85" fill="#00bfc4" fill-opacity="0.5" stroke="#00bfc4" stroke-opacity="0.5" stroke-width="1.3"/>
<circle cx="1534.6" cy="1413.5" r="11.85" fill="#00bfc4" fill-opacity="0.5" stroke="#00bfc4" stroke-opacity="0.5" stroke-width="1.3"/>
<circle cx="1518.1" cy="1429.8" r="11.85" fill="#00bfc4" fill-opacity="0.5" stroke="#00bfc4" stroke-opacity="0.5" stroke-width="1.3"/>
<circle cx="1530.4" cy="1434.8" r="11.85" fill="#00bfc4" fill-opacity="0.5" stroke="#00bfc4" stroke-opacity="0.5" stroke-width="1.3"/>
<circle cx="1527.2" cy="1453.9" r="11.85" fill="#00bfc4" fill-opacity="0.5" stroke="#00bfc4" stroke-opacity="0.5" stroke-width="1.3"/>
<circle cx="1529.7" cy="1457.6" r="11.85" fill="#00bfc4" fill-opacity="0.5" stroke="#00bfc4" stroke-opacity="0.5" stroke-width="1.3"/>
<circle cx="1516.1" cy="1534.3" r="11.85" fill="#00bfc4" fill-opacity="0.5" stroke="#00bfc4" stroke-opacity="0.5" stroke-width="1.3"/>
<circle cx="1611.4" cy="1125.8" r="11.85" fill="#f8766d" fill-opacity="0.5" stroke="#f8766d" stroke-opacity="0.5" stroke-width="1.3"/>
<circle cx="1606" cy="1327.6" r="11.85" fill="#f8766d" fill-opacity="0.5" stroke="#f8766d" stroke-opacity="0.5" stroke-width="1.3"/>
<circle cx="1623.8" cy="1369.7" r="11.85" fill="#f8766d" fill-opacity="0.5" stroke="#f8766d" stroke-opacity="0.5" stroke-width="1.3"/>
<circle cx="1615.1" cy="1425.9" r="11.85" fill="#f8766d" fill-opacity="0.5" stroke="#f8766d" stroke-opacity="0.5" stroke-width="1.3"/>
<circle cx="1625" cy="1432.8" r="11.85" fill="#f8766d" fill-opacity="0.5" stroke="#f8766d" stroke-opacity="0.5" stroke-width="1.3"/>
<circle cx="1620.1" cy="1441.5" r="11.85" fill="#f8766d" fill-opacity="0.5" stroke="#f8766d" stroke-opacity="0.5" stroke-width="1.3"/>
<circle cx="1612.1" cy="1427.9" r="11.85" fill="#f8766d" fill-opacity="0.5" stroke="#f8766d" stroke-opacity="0.5" stroke-width="1.3"/>
<circle cx="1616.3" cy="1504.1" r="11.85" fill="#f8766d" fill-opacity="0.5" stroke="#f8766d" stroke-opacity="0.5" stroke-width="1.3"/>
<circle cx="1604" cy="1530.6" r="11.85" fill="#f8766d" fill-opacity="0.5" stroke="#f8766d" stroke-opacity="0.5" stroke-width="1.3"/>
<line x1="1467.3" y1="1104.8" x2="1467.3" y2="1556.2" stroke="#000" stroke-width="2.6"/>
<line x1="1466" y1="1554.9" x2="1670.8" y2="1554.9" stroke="#000" stroke-width="2.6"/>
<line x1="1522.3" y1="1554.9" x2="1522.3" y2="1562.4" stroke="#333" stroke-width="2.6"/>
<line x1="1615.1" y1="1554.9" x2="1615.1" y2="1562.4" stroke="#333" stroke-width="2.6"/>
<line x1="1459.8" y1="1542.6" x2="1467.3" y2="1542.6" stroke="#333" stroke-width="2.6"/>
<text x="1453" y="1552.8" font-size="29.3" text-anchor="end" fill="#4d4d4d">0.10</text>
<line x1="1459.8" y1="1455.25" x2="1467.3" y2="1455.25" stroke="#333" stroke-width="2.6"/>
<text x="1453" y="1465.45" font-size="29.3" text-anchor="end" fill="#4d4d4d">0.15</text>
<line x1="1459.8" y1="1367.9" x2="1467.3" y2="1367.9" stroke="#333" stroke-width="2.6"/>
<text x="1453" y="1378.1" font-size="29.3" text-anchor="end" fill="#4d4d4d">0.20</text>
<line x1="1459.8" y1="1280.55" x2="1467.3" y2="1280.55" stroke="#333" stroke-width="2.6"/>
<text x="1453" y="1290.75" font-size="29.3" text-anchor="end" fill="#4d4d4d">0.25</text>
<line x1="1459.8" y1="1193.2" x2="1467.3" y2="1193.2" stroke="#333" stroke-width="2.6"/>
<text x="1453" y="1203.4" font-size="29.3" text-anchor="end" fill="#4d4d4d">0.30</text>
<text x="1568.7" y="1604" font-size="29.5" text-anchor="middle" fill="#000" font-weight="bold">γ</text>
<text x="382" y="1130" font-size="40" text-anchor="start" fill="#000" font-weight="bold">*</text>
<text x="184" y="1330.9" font-size="30.5" text-anchor="middle" fill="#000" transform="rotate(-90 184 1330.9)">BNST rel.power</text>
<line x1="1734.6" y1="1291.2" x2="1734.6" y2="1325.7" stroke="#333333" stroke-width="2.6"/>
<rect x="1718.8" y="1297.7" width="31.6" height="20.9" fill="#f9d8e0" stroke="#333333" stroke-width="2.6"/>
<line x1="1720.1" y1="1308" x2="1749.1" y2="1308" stroke="#333333" stroke-width="2.6"/>
<circle cx="1734.6" cy="1308" r="12" fill="#f8766d" fill-opacity="0.5"/>
<text x="1771" y="1319" font-size="30.1" text-anchor="start" fill="#000">Post active</text>
<line x1="1734.6" y1="1334.3" x2="1734.6" y2="1369.6" stroke="#333333" stroke-width="2.6"/>
<rect x="1718.8" y="1341.9" width="31.6" height="20.9" fill="#a4c1e8" stroke="#333333" stroke-width="2.6"/>
<line x1="1720.1" y1="1351.9" x2="1749.1" y2="1351.9" stroke="#333333" stroke-width="2.6"/>
<circle cx="1734.6" cy="1351.9" r="12" fill="#00bfc4" fill-opacity="0.5"/>
<text x="1771" y="1362.9" font-size="30.1" text-anchor="start" fill="#000">Post sham</text>
<rect x="429.8" y="1779.4" width="212.9" height="104" rx="17" ry="17" fill="#fff" stroke="#000" stroke-width="4.2"/>
<rect x="816.1" y="1780.4" width="253.8" height="102.7" rx="19" ry="19" fill="#fff" stroke="#000" stroke-width="4.2"/>
<rect x="1243.1" y="1779.1" width="256.1" height="104.8" rx="19" ry="19" fill="#fff" stroke="#000" stroke-width="4.2"/>
<text x="541.2" y="1816.6" font-size="29.8" text-anchor="middle" fill="#000">BNST. θ</text>
<text x="947.6" y="1810.9" font-size="29.1" text-anchor="middle" fill="#000">Mood</text>
<text x="1371.2" y="1815" font-size="28.6" text-anchor="middle" fill="#000">Anxiety</text>
<text x="849" y="1851.6" font-size="27.5" text-anchor="middle" fill="#000">0</text>
<text x="1036.5" y="1855.6" font-size="27.5" text-anchor="middle" fill="#000">100</text>
<text x="1273" y="1855.1" font-size="27.5" text-anchor="middle" fill="#000">0</text>
<text x="1459.5" y="1860.2" font-size="27.5" text-anchor="middle" fill="#000">100</text>
<line x1="906.7" y1="1843.5" x2="969.3" y2="1843.5" stroke="#000" stroke-width="8"/>
<polygon points="867.3,1843.5 907.7,1831.4 907.7,1855.6" fill="#000"/>
<polygon points="1008.7,1843.5 968.3,1831.4 968.3,1855.6" fill="#000"/>
<line x1="1330" y1="1846.6" x2="1391.4" y2="1846.6" stroke="#000" stroke-width="8.8"/>
<polygon points="1289.4,1846.6 1331,1834 1331,1859.2" fill="#000"/>
<polygon points="1432,1846.6 1390.4,1834 1390.4,1859.2" fill="#000"/>
<line x1="664.4" y1="1831.5" x2="794" y2="1831.5" stroke="#b0426d" stroke-width="4.4" stroke-dasharray="16.6 12.2 4.4 12.2"/>
<polygon points="644.2,1831.5 668.7,1819.4 668.7,1843.6" fill="#b0426d"/>
<polygon points="814.9,1831.5 790.2,1819.4 790.2,1843.6" fill="#b0426d"/>
<line x1="1095.1" y1="1831.5" x2="1218.8" y2="1831.5" stroke="#0e8858" stroke-width="4.5"/>
<polygon points="1071.9,1831.5 1096.1,1819.3 1096.1,1843.7" fill="#0e8858"/>
<polygon points="1242,1831.5 1217.8,1819.3 1217.8,1843.7" fill="#0e8858"/>
<polyline points="439.5,1848.18 441,1834.58 442.42,1849.26 443.95,1840.22 445.41,1850.32 447.13,1840.88 448.4,1846.11 450.13,1836 451.17,1853.39 453.03,1836.2 454.59,1846.75 455.6,1837.15 456.65,1847.06 457.87,1841.27 459.29,1849.22 461.05,1837.05 462.62,1849.83 464.22,1837.49 465.47,1854.27 467.37,1834.02 469,1848.39 470.21,1838.8 471.27,1852.69 472.63,1833.28 473.98,1855.09 475.74,1841.13 476.93,1855.3 478.36,1830.64 479.71,1846.85 481.28,1832.18 482.52,1847.18 483.82,1829.51 485.51,1847.71 486.73,1839.46 487.78,1855.95 488.94,1833.87 490.34,1848.7 492,1839 493.58,1847.86 494.96,1837.91 496.2,1858.62 497.93,1836.69 499.72,1849.18 501.08,1829.87 502.65,1847.58 504.55,1838.24 505.78,1855.03 507.07,1837.57 508.14,1847.05 509.66,1838.45 511.21,1849.7 512.61,1831.69 514.05,1851.25 515.83,1839.6 516.97,1854.12 518.7,1839.03 519.87,1852.45 521.72,1839.56 523.58,1853.62 525.12,1837.59 526.21,1845.96 528.08,1839.28 529.71,1847.86 531.45,1836.19 532.72,1847.09 534.37,1840.86 535.57,1850.37 537.34,1836.2 538.59,1853.35 539.78,1841.36 541.02,1849.32 542.07,1839.97 543.4,1850.48 544.52,1838.31 546.32,1854.16 547.92,1835.31 549.44,1846.84 550.47,1841.24 552.29,1851.95 554.16,1841.16 555.73,1850.08 557.39,1838.38 559.29,1846.39 560.78,1834.36 562.59,1852.76 564.22,1833.59 566.05,1849.23 567.66,1832.29 569.45,1850.02 571.16,1832.39 572.67,1852.28 574.02,1835.07 575.57,1846.78 577.14,1830.58 578.93,1853.75 580.28,1833.09 581.81,1850.82 583.56,1840.01 585.24,1846.46 586.78,1835.04 587.98,1855 589.43,1832.51 591.26,1850.23 592.27,1835.92 593.88,1849.99 595.03,1826.03 596.63,1854.33 598.43,1834.28 600.03,1850.73 601.42,1825.9 603.24,1862.7 604.59,1829.23 605.87,1850.06 607.32,1824.3 609.08,1860.73 610.94,1834.02" fill="none" stroke="#000" stroke-width="1.25" stroke-linejoin="round"/>
<path d="M553,1761.3 C566.8,1746.9 668,1705.2 958,1705.2 C1238,1705.2 1351.3,1757.1 1354.6,1760.85" fill="none" stroke="#1476ad" stroke-width="4"/>
<polygon points="536.6,1778.5 544,1753.4 562,1769.2" fill="#1476ad"/>
<polygon points="1370.7,1778.9 1363.6,1752.9 1345.6,1768.8" fill="#1476ad"/>
<circle cx="195.35" cy="2142.44" r="12.5" fill="#1179ad"/>
<circle cx="450.97" cy="2018.08" r="12.5" fill="#1179ad"/>
<circle cx="469.97" cy="2009.45" r="12.5" fill="#1179ad"/>
<circle cx="541.81" cy="2248.48" r="12.5" fill="#1179ad"/>
<circle cx="650.28" cy="2250.55" r="12.5" fill="#1179ad"/>
<circle cx="362.88" cy="2274.73" r="12.5" fill="#1179ad"/>
<circle cx="423.33" cy="2272.66" r="12.5" fill="#1179ad"/>
<circle cx="510.73" cy="2277.84" r="12.5" fill="#1179ad"/>
<circle cx="296.56" cy="2299.6" r="12.5" fill="#1179ad"/>
<circle cx="305.89" cy="2300.29" r="12.5" fill="#1179ad"/>
<circle cx="336.29" cy="2298.57" r="12.5" fill="#1179ad"/>
<circle cx="392.59" cy="2298.57" r="12.5" fill="#1179ad"/>
<circle cx="479.64" cy="2294.42" r="12.5" fill="#1179ad"/>
<circle cx="279.98" cy="2317.56" r="12.5" fill="#1179ad"/>
<circle cx="374.63" cy="2326.2" r="12.5" fill="#1179ad"/>
<circle cx="310.03" cy="2373.52" r="12.5" fill="#1179ad"/>
<circle cx="276.87" cy="2410.83" r="12.5" fill="#1179ad"/>
<circle cx="339.6" cy="2070.9" r="12.5" fill="#1179ad"/>
<circle cx="363.4" cy="2074.8" r="12.5" fill="#1179ad"/>
<circle cx="411.7" cy="2065.1" r="12.5" fill="#1179ad"/>
<circle cx="436.8" cy="2081.2" r="12.5" fill="#1179ad"/>
<circle cx="469.6" cy="2067.7" r="12.5" fill="#1179ad"/>
<circle cx="487.1" cy="2076.4" r="12.5" fill="#1179ad"/>
<circle cx="386.6" cy="2085.7" r="12.5" fill="#1179ad"/>
<circle cx="418.1" cy="2091.5" r="12.5" fill="#1179ad"/>
<circle cx="311.9" cy="2099.9" r="12.5" fill="#1179ad"/>
<circle cx="343.4" cy="2098.6" r="12.5" fill="#1179ad"/>
<circle cx="360.2" cy="2096.7" r="12.5" fill="#1179ad"/>
<circle cx="469.5" cy="2097.4" r="12.5" fill="#1179ad"/>
<circle cx="482.2" cy="2105.9" r="12.5" fill="#1179ad"/>
<circle cx="493.4" cy="2100.3" r="12.5" fill="#1179ad"/>
<circle cx="411.7" cy="2100.5" r="12.5" fill="#1179ad"/>
<circle cx="415.5" cy="2107" r="12.5" fill="#1179ad"/>
<circle cx="448.4" cy="2114.7" r="12.5" fill="#1179ad"/>
<circle cx="348.6" cy="2112.1" r="12.5" fill="#1179ad"/>
<circle cx="389.8" cy="2128.9" r="12.5" fill="#1179ad"/>
<circle cx="416.8" cy="2130.2" r="12.5" fill="#1179ad"/>
<circle cx="442.6" cy="2130.2" r="12.5" fill="#1179ad"/>
<circle cx="346" cy="2131.4" r="12.5" fill="#1179ad"/>
<circle cx="360.2" cy="2132.7" r="12.5" fill="#1179ad"/>
<circle cx="311.2" cy="2137.9" r="12.5" fill="#1179ad"/>
<circle cx="328" cy="2145.6" r="12.5" fill="#1179ad"/>
<circle cx="370.5" cy="2143" r="12.5" fill="#1179ad"/>
<circle cx="480.7" cy="2134" r="12.5" fill="#1179ad"/>
<circle cx="286.7" cy="2165.6" r="12.5" fill="#1179ad"/>
<circle cx="299.6" cy="2163.6" r="12.5" fill="#1179ad"/>
<circle cx="339.6" cy="2167.5" r="12.5" fill="#1179ad"/>
<circle cx="366.6" cy="2166.2" r="12.5" fill="#1179ad"/>
<circle cx="388.5" cy="2178.5" r="12.5" fill="#1179ad"/>
<circle cx="429.7" cy="2155.9" r="12.5" fill="#1179ad"/>
<circle cx="454.1" cy="2157.9" r="12.5" fill="#1179ad"/>
<circle cx="461.1" cy="2164.9" r="12.5" fill="#1179ad"/>
<circle cx="414.3" cy="2188.1" r="12.5" fill="#1179ad"/>
<circle cx="441.3" cy="2184.3" r="12.5" fill="#1179ad"/>
<circle cx="469.5" cy="2183.2" r="12.5" fill="#1179ad"/>
<circle cx="482.2" cy="2186" r="12.5" fill="#1179ad"/>
<circle cx="297" cy="2216.5" r="12.5" fill="#1179ad"/>
<circle cx="312.5" cy="2206.2" r="12.5" fill="#1179ad"/>
<circle cx="321.5" cy="2217.7" r="12.5" fill="#1179ad"/>
<circle cx="331.8" cy="2201" r="12.5" fill="#1179ad"/>
<circle cx="347.3" cy="2206.2" r="12.5" fill="#1179ad"/>
<circle cx="352.4" cy="2190.7" r="12.5" fill="#1179ad"/>
<circle cx="366.6" cy="2220.3" r="12.5" fill="#1179ad"/>
<circle cx="375.6" cy="2202.3" r="12.5" fill="#1179ad"/>
<circle cx="393.6" cy="2206.2" r="12.5" fill="#1179ad"/>
<circle cx="441.3" cy="2207.4" r="12.5" fill="#1179ad"/>
<circle cx="441.3" cy="2233.2" r="12.5" fill="#1179ad"/>
<circle cx="494.8" cy="2205.6" r="12.5" fill="#1179ad"/>
<circle cx="507.4" cy="2046.9" r="12.5" fill="#1179ad"/>
<circle cx="614.2" cy="2050.8" r="12.5" fill="#1179ad"/>
<circle cx="541.9" cy="2089" r="12.5" fill="#1179ad"/>
<circle cx="549.6" cy="2101.7" r="12.5" fill="#1179ad"/>
<circle cx="522.9" cy="2111.5" r="12.5" fill="#1179ad"/>
<circle cx="497.6" cy="2127" r="12.5" fill="#1179ad"/>
<circle cx="515.9" cy="2131.2" r="12.5" fill="#1179ad"/>
<circle cx="544" cy="2131.2" r="12.5" fill="#1179ad"/>
<circle cx="642.3" cy="2128.4" r="12.5" fill="#1179ad"/>
<circle cx="448.4" cy="2184.6" r="12.5" fill="#1179ad"/>
<circle cx="529.9" cy="2200" r="12.5" fill="#1179ad"/>
<circle cx="563.6" cy="2197.2" r="12.5" fill="#1179ad"/>
<circle cx="570.7" cy="2197.2" r="12.5" fill="#1179ad"/>
<circle cx="643.7" cy="2190.2" r="12.5" fill="#1179ad"/>
<circle cx="497.6" cy="2221.1" r="12.5" fill="#1179ad"/>
<circle cx="373.2" cy="2102.7" r="12.5" fill="#1179ad"/>
<circle cx="390.5" cy="2106.2" r="12.5" fill="#1179ad"/>
<circle cx="366.3" cy="2120" r="12.5" fill="#1179ad"/>
<circle cx="430.9" cy="2127.4" r="12.5" fill="#1179ad"/>
<polygon points="195.96,2178.03 207.32,2177.15 218.68,2176.25 230.04,2175.34 241.39,2174.42 252.75,2173.46 264.11,2172.48 275.47,2171.48 286.82,2170.43 298.18,2169.34 309.54,2168.2 320.9,2167 332.25,2165.72 343.61,2164.35 354.97,2162.87 366.33,2161.27 377.68,2159.51 389.04,2157.58 400.4,2155.45 411.76,2153.12 423.11,2150.56 434.47,2147.79 445.83,2144.81 457.18,2141.65 468.54,2138.32 479.9,2134.86 491.26,2131.27 502.61,2127.58 513.97,2123.82 525.33,2119.98 536.69,2116.08 548.04,2112.14 559.4,2108.16 570.76,2104.14 582.12,2100.1 593.47,2096.03 604.83,2091.94 616.19,2087.83 627.55,2083.71 638.9,2079.57 650.26,2075.42 650.26,2154.17 638.9,2155.03 627.55,2155.91 616.19,2156.79 604.83,2157.7 593.47,2158.62 582.12,2159.56 570.76,2160.52 559.4,2161.52 548.04,2162.55 536.69,2163.61 525.33,2164.73 513.97,2165.9 502.61,2167.14 491.26,2168.47 479.9,2169.89 468.54,2171.44 457.18,2173.12 445.83,2174.97 434.47,2177 423.11,2179.24 411.76,2181.7 400.4,2184.37 389.04,2187.25 377.68,2190.33 366.33,2193.58 354.97,2196.99 343.61,2200.52 332.25,2204.16 320.9,2207.9 309.54,2211.7 298.18,2215.57 286.82,2219.49 275.47,2223.46 264.11,2227.46 252.75,2231.49 241.39,2235.55 230.04,2239.63 218.68,2243.73 207.32,2247.85 195.96,2251.98" fill="#999999" fill-opacity="0.4"/>
<line x1="195.96" y1="2215" x2="650.26" y2="2114.8" stroke="#cdeaf5" stroke-width="4.5"/>
<line x1="172.9" y1="1990.4" x2="172.9" y2="2432" stroke="#000" stroke-width="2"/>
<line x1="171.9" y1="2431" x2="673.1" y2="2431" stroke="#000" stroke-width="2.2"/>
<line x1="237.9" y1="2431" x2="237.9" y2="2436.3" stroke="#333" stroke-width="1.8"/>
<text x="237.9" y="2462.8" font-size="30.5" text-anchor="middle" fill="#4d4d4d">-2</text>
<line x1="327.7" y1="2431" x2="327.7" y2="2436.3" stroke="#333" stroke-width="1.8"/>
<text x="327.7" y="2462.8" font-size="30.5" text-anchor="middle" fill="#4d4d4d">-1</text>
<line x1="417.5" y1="2431" x2="417.5" y2="2436.3" stroke="#333" stroke-width="1.8"/>
<text x="417.5" y="2462.8" font-size="30.5" text-anchor="middle" fill="#4d4d4d">0</text>
<line x1="507.3" y1="2431" x2="507.3" y2="2436.3" stroke="#333" stroke-width="1.8"/>
<text x="507.3" y="2462.8" font-size="30.5" text-anchor="middle" fill="#4d4d4d">1</text>
<line x1="597.1" y1="2431" x2="597.1" y2="2436.3" stroke="#333" stroke-width="1.8"/>
<text x="597.1" y="2462.8" font-size="30.5" text-anchor="middle" fill="#4d4d4d">2</text>
<line x1="167.6" y1="2396.5" x2="172.9" y2="2396.5" stroke="#333" stroke-width="1.8"/>
<text x="162.4" y="2408.2" font-size="30.5" text-anchor="end" fill="#4d4d4d">-3</text>
<line x1="167.6" y1="2319.3" x2="172.9" y2="2319.3" stroke="#333" stroke-width="1.8"/>
<text x="162.4" y="2331" font-size="30.5" text-anchor="end" fill="#4d4d4d">-2</text>
<line x1="167.6" y1="2242.1" x2="172.9" y2="2242.1" stroke="#333" stroke-width="1.8"/>
<text x="162.4" y="2253.8" font-size="30.5" text-anchor="end" fill="#4d4d4d">-1</text>
<line x1="167.6" y1="2164.9" x2="172.9" y2="2164.9" stroke="#333" stroke-width="1.8"/>
<text x="162.4" y="2176.6" font-size="30.5" text-anchor="end" fill="#4d4d4d">0</text>
<line x1="167.6" y1="2087.7" x2="172.9" y2="2087.7" stroke="#333" stroke-width="1.8"/>
<text x="162.4" y="2099.4" font-size="30.5" text-anchor="end" fill="#4d4d4d">1</text>
<line x1="167.6" y1="2010.5" x2="172.9" y2="2010.5" stroke="#333" stroke-width="1.8"/>
<text x="162.4" y="2022.2" font-size="30.5" text-anchor="end" fill="#4d4d4d">2</text>
<text x="421.6" y="1971.5" font-size="33.4" text-anchor="middle" fill="#000">r = 0.26, p = 0.007</text>
<text x="423" y="2494.2" font-size="29.4" text-anchor="middle" fill="#000">BNST.θ (zscored)</text>
<text x="125" y="2211.5" font-size="29" text-anchor="middle" fill="#000" transform="rotate(-90 125 2211.5)">Anxiety VAS scores (zscored)</text>
<circle cx="788.12" cy="2257.46" r="12.5" fill="#b3426b"/>
<circle cx="902.8" cy="2009.45" r="12.5" fill="#b3426b"/>
<circle cx="895.89" cy="2023.96" r="12.5" fill="#b3426b"/>
<circle cx="1063.42" cy="2031.9" r="12.5" fill="#b3426b"/>
<circle cx="938.38" cy="2088.2" r="12.5" fill="#b3426b"/>
<circle cx="1029.57" cy="2124.13" r="12.5" fill="#b3426b"/>
<circle cx="970.16" cy="2135.53" r="12.5" fill="#b3426b"/>
<circle cx="1061.69" cy="2140.02" r="12.5" fill="#b3426b"/>
<circle cx="948.74" cy="2150.38" r="12.5" fill="#b3426b"/>
<circle cx="1015.06" cy="2154.53" r="12.5" fill="#b3426b"/>
<circle cx="1023.7" cy="2171.11" r="12.5" fill="#b3426b"/>
<circle cx="1046.15" cy="2170.07" r="12.5" fill="#b3426b"/>
<circle cx="1099.69" cy="2146.93" r="12.5" fill="#b3426b"/>
<circle cx="1115.92" cy="2147.62" r="12.5" fill="#b3426b"/>
<circle cx="1135.27" cy="2155.22" r="12.5" fill="#b3426b"/>
<circle cx="1206.77" cy="2164.2" r="12.5" fill="#b3426b"/>
<circle cx="1243.04" cy="2174.56" r="12.5" fill="#b3426b"/>
<circle cx="1099" cy="2221.88" r="12.5" fill="#b3426b"/>
<circle cx="1108.32" cy="2249.52" r="12.5" fill="#b3426b"/>
<circle cx="1136.65" cy="2245.37" r="12.5" fill="#b3426b"/>
<circle cx="1234.4" cy="2260.92" r="12.5" fill="#b3426b"/>
<circle cx="1234.4" cy="2279.57" r="12.5" fill="#b3426b"/>
<circle cx="1122.14" cy="2270.24" r="12.5" fill="#b3426b"/>
<circle cx="1135.27" cy="2280.6" r="12.5" fill="#b3426b"/>
<circle cx="1161.87" cy="2280.6" r="12.5" fill="#b3426b"/>
<circle cx="1156.68" cy="2292.69" r="12.5" fill="#b3426b"/>
<circle cx="1103.14" cy="2347.96" r="12.5" fill="#b3426b"/>
<circle cx="1142.18" cy="2340.36" r="12.5" fill="#b3426b"/>
<circle cx="869.29" cy="2402.54" r="12.5" fill="#b3426b"/>
<circle cx="967.39" cy="2410.14" r="12.5" fill="#b3426b"/>
<circle cx="1016.79" cy="2390.45" r="12.5" fill="#b3426b"/>
<circle cx="1073.09" cy="2393.9" r="12.5" fill="#b3426b"/>
<circle cx="874.1" cy="2186.2" r="12.5" fill="#b3426b"/>
<circle cx="904.7" cy="2187.6" r="12.5" fill="#b3426b"/>
<circle cx="931.7" cy="2184.1" r="12.5" fill="#b3426b"/>
<circle cx="949.9" cy="2181.2" r="12.5" fill="#b3426b"/>
<circle cx="961.2" cy="2193.9" r="12.5" fill="#b3426b"/>
<circle cx="937.3" cy="2200.9" r="12.5" fill="#b3426b"/>
<circle cx="955.5" cy="2205.1" r="12.5" fill="#b3426b"/>
<circle cx="893" cy="2209.3" r="12.5" fill="#b3426b"/>
<circle cx="905" cy="2212.2" r="12.5" fill="#b3426b"/>
<circle cx="938.7" cy="2224.8" r="12.5" fill="#b3426b"/>
<circle cx="957" cy="2220.6" r="12.5" fill="#b3426b"/>
<circle cx="983" cy="2215.7" r="12.5" fill="#b3426b"/>
<circle cx="1007.5" cy="2207.2" r="12.5" fill="#b3426b"/>
<circle cx="1044.1" cy="2207.9" r="12.5" fill="#b3426b"/>
<circle cx="1075" cy="2205.1" r="12.5" fill="#b3426b"/>
<circle cx="1086.2" cy="2196.7" r="12.5" fill="#b3426b"/>
<circle cx="1024.4" cy="2172.8" r="12.5" fill="#b3426b"/>
<circle cx="1046.9" cy="2172.8" r="12.5" fill="#b3426b"/>
<circle cx="1096" cy="2222" r="12.5" fill="#b3426b"/>
<circle cx="893.4" cy="2237.4" r="12.5" fill="#b3426b"/>
<circle cx="985.1" cy="2238.8" r="12.5" fill="#b3426b"/>
<circle cx="1036.3" cy="2230.4" r="12.5" fill="#b3426b"/>
<circle cx="1062.3" cy="2240.3" r="12.5" fill="#b3426b"/>
<circle cx="921.8" cy="2252.9" r="12.5" fill="#b3426b"/>
<circle cx="938.7" cy="2251.5" r="12.5" fill="#b3426b"/>
<circle cx="958.4" cy="2245.9" r="12.5" fill="#b3426b"/>
<circle cx="1006.1" cy="2245.9" r="12.5" fill="#b3426b"/>
<circle cx="1023" cy="2254.3" r="12.5" fill="#b3426b"/>
<circle cx="959.8" cy="2262.7" r="12.5" fill="#b3426b"/>
<circle cx="1089" cy="2259.9" r="12.5" fill="#b3426b"/>
<circle cx="992.1" cy="2268.4" r="12.5" fill="#b3426b"/>
<circle cx="1035.6" cy="2265.5" r="12.5" fill="#b3426b"/>
<circle cx="1062.3" cy="2272.6" r="12.5" fill="#b3426b"/>
<circle cx="889.5" cy="2286.6" r="12.5" fill="#b3426b"/>
<circle cx="909.2" cy="2290.8" r="12.5" fill="#b3426b"/>
<circle cx="917.6" cy="2300.7" r="12.5" fill="#b3426b"/>
<circle cx="951.3" cy="2288" r="12.5" fill="#b3426b"/>
<circle cx="966.8" cy="2289.4" r="12.5" fill="#b3426b"/>
<circle cx="986.5" cy="2288" r="12.5" fill="#b3426b"/>
<circle cx="1007.5" cy="2286.6" r="12.5" fill="#b3426b"/>
<circle cx="1032.8" cy="2285.2" r="12.5" fill="#b3426b"/>
<circle cx="1082" cy="2289.4" r="12.5" fill="#b3426b"/>
<circle cx="1008.9" cy="2309.1" r="12.5" fill="#b3426b"/>
<circle cx="1039.9" cy="2306.3" r="12.5" fill="#b3426b"/>
<circle cx="914.8" cy="2316.1" r="12.5" fill="#b3426b"/>
<circle cx="955.5" cy="2326" r="12.5" fill="#b3426b"/>
<circle cx="980.8" cy="2328.8" r="12.5" fill="#b3426b"/>
<circle cx="1034.2" cy="2321.7" r="12.5" fill="#b3426b"/>
<circle cx="902.2" cy="2341.4" r="12.5" fill="#b3426b"/>
<circle cx="930.3" cy="2337.2" r="12.5" fill="#b3426b"/>
<circle cx="942.9" cy="2347" r="12.5" fill="#b3426b"/>
<circle cx="1041.3" cy="2342.8" r="12.5" fill="#b3426b"/>
<circle cx="879.7" cy="2362.5" r="12.5" fill="#b3426b"/>
<circle cx="888.1" cy="2373.7" r="12.5" fill="#b3426b"/>
<circle cx="1034.2" cy="2364.6" r="12.5" fill="#b3426b"/>
<circle cx="1098.9" cy="2348.4" r="12.5" fill="#b3426b"/>
<circle cx="1014.6" cy="2275.4" r="12.5" fill="#b3426b"/>
<circle cx="1021.6" cy="2296.5" r="12.5" fill="#b3426b"/>
<circle cx="1000.5" cy="2296.5" r="12.5" fill="#b3426b"/>
<circle cx="1028.6" cy="2317.5" r="12.5" fill="#b3426b"/>
<circle cx="1014.6" cy="2310.5" r="12.5" fill="#b3426b"/>
<circle cx="993.5" cy="2271.2" r="12.5" fill="#b3426b"/>
<circle cx="1035.6" cy="2276.8" r="12.5" fill="#b3426b"/>
<circle cx="1000.5" cy="2310.5" r="12.5" fill="#b3426b"/>
<polygon points="789.84,2218.86 801.16,2220.14 812.47,2221.4 823.79,2222.65 835.1,2223.88 846.41,2225.08 857.73,2226.27 869.04,2227.42 880.36,2228.54 891.67,2229.62 902.98,2230.64 914.3,2231.61 925.61,2232.5 936.92,2233.31 948.24,2234.01 959.55,2234.57 970.87,2234.98 982.18,2235.21 993.49,2235.23 1004.81,2235.03 1016.12,2234.58 1027.44,2233.89 1038.75,2232.96 1050.06,2231.83 1061.38,2230.51 1072.69,2229.04 1084.01,2227.43 1095.32,2225.71 1106.63,2223.91 1117.95,2222.02 1129.26,2220.08 1140.58,2218.08 1151.89,2216.05 1163.2,2213.97 1174.52,2211.87 1185.83,2209.74 1197.14,2207.6 1208.46,2205.43 1219.77,2203.24 1231.09,2201.05 1242.4,2198.84 1242.4,2280.71 1231.09,2279.42 1219.77,2278.15 1208.46,2276.89 1197.14,2275.64 1185.83,2274.41 1174.52,2273.21 1163.2,2272.03 1151.89,2270.88 1140.58,2269.76 1129.26,2268.69 1117.95,2267.67 1106.63,2266.71 1095.32,2265.82 1084.01,2265.03 1072.69,2264.34 1061.38,2263.79 1050.06,2263.39 1038.75,2263.18 1027.44,2263.18 1016.12,2263.41 1004.81,2263.88 993.49,2264.6 982.18,2265.54 970.87,2266.69 959.55,2268.02 948.24,2269.51 936.92,2271.13 925.61,2272.86 914.3,2274.68 902.98,2276.56 891.67,2278.51 880.36,2280.51 869.04,2282.55 857.73,2284.63 846.41,2286.73 835.1,2288.86 823.79,2291.01 812.47,2293.18 801.16,2295.37 789.84,2297.57" fill="#999999" fill-opacity="0.4"/>
<line x1="789.84" y1="2258.21" x2="1242.4" y2="2239.78" stroke="#fbd8de" stroke-width="4.5"/>
<line x1="766.4" y1="1990.4" x2="766.4" y2="2432" stroke="#000" stroke-width="2"/>
<line x1="765.4" y1="2431" x2="1265.5" y2="2431" stroke="#000" stroke-width="2.2"/>
<line x1="829.4" y1="2431" x2="829.4" y2="2436.3" stroke="#333" stroke-width="1.8"/>
<text x="829.4" y="2462.8" font-size="30.5" text-anchor="middle" fill="#4d4d4d">-2</text>
<line x1="919.3" y1="2431" x2="919.3" y2="2436.3" stroke="#333" stroke-width="1.8"/>
<text x="919.3" y="2462.8" font-size="30.5" text-anchor="middle" fill="#4d4d4d">-1</text>
<line x1="1009.2" y1="2431" x2="1009.2" y2="2436.3" stroke="#333" stroke-width="1.8"/>
<text x="1009.2" y="2462.8" font-size="30.5" text-anchor="middle" fill="#4d4d4d">0</text>
<line x1="1099.1" y1="2431" x2="1099.1" y2="2436.3" stroke="#333" stroke-width="1.8"/>
<text x="1099.1" y="2462.8" font-size="30.5" text-anchor="middle" fill="#4d4d4d">1</text>
<line x1="1189" y1="2431" x2="1189" y2="2436.3" stroke="#333" stroke-width="1.8"/>
<text x="1189" y="2462.8" font-size="30.5" text-anchor="middle" fill="#4d4d4d">2</text>
<line x1="761.1" y1="2405.1" x2="766.4" y2="2405.1" stroke="#333" stroke-width="1.8"/>
<text x="755.9" y="2416.8" font-size="30.5" text-anchor="end" fill="#4d4d4d">-2</text>
<line x1="761.1" y1="2327.3" x2="766.4" y2="2327.3" stroke="#333" stroke-width="1.8"/>
<text x="755.9" y="2339" font-size="30.5" text-anchor="end" fill="#4d4d4d">-1</text>
<line x1="761.1" y1="2249.5" x2="766.4" y2="2249.5" stroke="#333" stroke-width="1.8"/>
<text x="755.9" y="2261.2" font-size="30.5" text-anchor="end" fill="#4d4d4d">0</text>
<line x1="761.1" y1="2171.7" x2="766.4" y2="2171.7" stroke="#333" stroke-width="1.8"/>
<text x="755.9" y="2183.4" font-size="30.5" text-anchor="end" fill="#4d4d4d">1</text>
<line x1="761.1" y1="2093.9" x2="766.4" y2="2093.9" stroke="#333" stroke-width="1.8"/>
<text x="755.9" y="2105.6" font-size="30.5" text-anchor="end" fill="#4d4d4d">2</text>
<line x1="761.1" y1="2016.1" x2="766.4" y2="2016.1" stroke="#333" stroke-width="1.8"/>
<text x="755.9" y="2027.8" font-size="30.5" text-anchor="end" fill="#4d4d4d">3</text>
<text x="1015.4" y="1971.5" font-size="33.4" text-anchor="middle" fill="#000">r = 0.05, p = 0.610</text>
<text x="1015.95" y="2494.2" font-size="29.4" text-anchor="middle" fill="#000">BNST.θ (zscored)</text>
<text x="718" y="2211.5" font-size="29" text-anchor="middle" fill="#000" transform="rotate(-90 718 2211.5)">Mood VAS scores (zscored)</text>
<circle cx="1380.54" cy="2326.2" r="12.5" fill="#0d8a58"/>
<circle cx="1390.21" cy="2410.14" r="12.5" fill="#0d8a58"/>
<circle cx="1402.99" cy="2271.97" r="12.5" fill="#0d8a58"/>
<circle cx="1399.53" cy="2294.42" r="12.5" fill="#0d8a58"/>
<circle cx="1419.22" cy="2297.88" r="12.5" fill="#0d8a58"/>
<circle cx="1451.35" cy="2277.15" r="12.5" fill="#0d8a58"/>
<circle cx="1463.44" cy="2297.88" r="12.5" fill="#0d8a58"/>
<circle cx="1434.08" cy="2164.89" r="12.5" fill="#0d8a58"/>
<circle cx="1435.11" cy="2187.34" r="12.5" fill="#0d8a58"/>
<circle cx="1681.05" cy="2047.44" r="12.5" fill="#0d8a58"/>
<circle cx="1688.65" cy="2009.45" r="12.5" fill="#0d8a58"/>
<circle cx="1610.93" cy="2018.08" r="12.5" fill="#0d8a58"/>
<circle cx="1706.96" cy="2081.99" r="12.5" fill="#0d8a58"/>
<circle cx="1681.05" cy="2109.62" r="12.5" fill="#0d8a58"/>
<circle cx="1693.14" cy="2100.98" r="12.5" fill="#0d8a58"/>
<circle cx="1649.97" cy="2250.55" r="12.5" fill="#0d8a58"/>
<circle cx="1614.73" cy="2274.73" r="12.5" fill="#0d8a58"/>
<circle cx="1573.97" cy="2297.88" r="12.5" fill="#0d8a58"/>
<circle cx="1610.24" cy="2307.2" r="12.5" fill="#0d8a58"/>
<circle cx="1636.15" cy="2317.56" r="12.5" fill="#0d8a58"/>
<circle cx="1746.68" cy="2167.31" r="12.5" fill="#0d8a58"/>
<circle cx="1810.59" cy="2183.2" r="12.5" fill="#0d8a58"/>
<circle cx="1820.26" cy="2299.6" r="12.5" fill="#0d8a58"/>
<circle cx="1835.8" cy="2373.18" r="12.5" fill="#0d8a58"/>
<circle cx="1477.2" cy="2074.4" r="12.5" fill="#0d8a58"/>
<circle cx="1477.2" cy="2086.4" r="12.5" fill="#0d8a58"/>
<circle cx="1461.1" cy="2100.4" r="12.5" fill="#0d8a58"/>
<circle cx="1455.5" cy="2111.7" r="12.5" fill="#0d8a58"/>
<circle cx="1518" cy="2075.8" r="12.5" fill="#0d8a58"/>
<circle cx="1540.5" cy="2066" r="12.5" fill="#0d8a58"/>
<circle cx="1522.2" cy="2099.7" r="12.5" fill="#0d8a58"/>
<circle cx="1546.8" cy="2107.4" r="12.5" fill="#0d8a58"/>
<circle cx="1563.6" cy="2097.6" r="12.5" fill="#0d8a58"/>
<circle cx="1574.9" cy="2096.9" r="12.5" fill="#0d8a58"/>
<circle cx="1603" cy="2103.2" r="12.5" fill="#0d8a58"/>
<circle cx="1618.4" cy="2099" r="12.5" fill="#0d8a58"/>
<circle cx="1639.5" cy="2099" r="12.5" fill="#0d8a58"/>
<circle cx="1638.1" cy="2070.9" r="12.5" fill="#0d8a58"/>
<circle cx="1660.6" cy="2050.5" r="12.5" fill="#0d8a58"/>
<circle cx="1671.8" cy="2090.6" r="12.5" fill="#0d8a58"/>
<circle cx="1678.9" cy="2110.3" r="12.5" fill="#0d8a58"/>
<circle cx="1511.7" cy="2127.1" r="12.5" fill="#0d8a58"/>
<circle cx="1531.3" cy="2131.3" r="12.5" fill="#0d8a58"/>
<circle cx="1552.4" cy="2124.3" r="12.5" fill="#0d8a58"/>
<circle cx="1566.5" cy="2118.7" r="12.5" fill="#0d8a58"/>
<circle cx="1580.5" cy="2129.9" r="12.5" fill="#0d8a58"/>
<circle cx="1594.6" cy="2129.9" r="12.5" fill="#0d8a58"/>
<circle cx="1608.6" cy="2137" r="12.5" fill="#0d8a58"/>
<circle cx="1622.7" cy="2135.5" r="12.5" fill="#0d8a58"/>
<circle cx="1560.8" cy="2141.2" r="12.5" fill="#0d8a58"/>
<circle cx="1542.6" cy="2158" r="12.5" fill="#0d8a58"/>
<circle cx="1566.5" cy="2146.8" r="12.5" fill="#0d8a58"/>
<circle cx="1586.1" cy="2162.2" r="12.5" fill="#0d8a58"/>
<circle cx="1555.2" cy="2167.9" r="12.5" fill="#0d8a58"/>
<circle cx="1513.1" cy="2165" r="12.5" fill="#0d8a58"/>
<circle cx="1653.6" cy="2159.4" r="12.5" fill="#0d8a58"/>
<circle cx="1653.6" cy="2169.3" r="12.5" fill="#0d8a58"/>
<circle cx="1470.9" cy="2179.1" r="12.5" fill="#0d8a58"/>
<circle cx="1456.9" cy="2186.1" r="12.5" fill="#0d8a58"/>
<circle cx="1497.6" cy="2184.7" r="12.5" fill="#0d8a58"/>
<circle cx="1527.1" cy="2188.9" r="12.5" fill="#0d8a58"/>
<circle cx="1538.4" cy="2198.8" r="12.5" fill="#0d8a58"/>
<circle cx="1567.9" cy="2193.2" r="12.5" fill="#0d8a58"/>
<circle cx="1569.3" cy="2207.2" r="12.5" fill="#0d8a58"/>
<circle cx="1616.3" cy="2185.4" r="12.5" fill="#0d8a58"/>
<circle cx="1459.7" cy="2214.9" r="12.5" fill="#0d8a58"/>
<circle cx="1490.6" cy="2215.6" r="12.5" fill="#0d8a58"/>
<circle cx="1521.5" cy="2217" r="12.5" fill="#0d8a58"/>
<circle cx="1548.2" cy="2220.6" r="12.5" fill="#0d8a58"/>
<circle cx="1480.7" cy="2235.3" r="12.5" fill="#0d8a58"/>
<circle cx="1492" cy="2231.1" r="12.5" fill="#0d8a58"/>
<circle cx="1627.6" cy="2220.6" r="12.5" fill="#0d8a58"/>
<circle cx="1506" cy="2201.6" r="12.5" fill="#0d8a58"/>
<polygon points="1381.61,2174.31 1392.97,2173.31 1404.32,2172.3 1415.68,2171.26 1427.04,2170.18 1438.39,2169.07 1449.75,2167.9 1461.1,2166.69 1472.46,2165.4 1483.81,2164.04 1495.17,2162.58 1506.52,2161 1517.88,2159.28 1529.23,2157.4 1540.59,2155.33 1551.94,2153.05 1563.3,2150.56 1574.66,2147.83 1586.01,2144.89 1597.37,2141.74 1608.72,2138.41 1620.08,2134.93 1631.43,2131.3 1642.79,2127.56 1654.14,2123.73 1665.5,2119.82 1676.85,2115.85 1688.21,2111.82 1699.56,2107.75 1710.92,2103.64 1722.28,2099.5 1733.63,2095.33 1744.99,2091.13 1756.34,2086.92 1767.7,2082.69 1779.05,2078.45 1790.41,2074.19 1801.76,2069.93 1813.12,2065.65 1824.47,2061.36 1835.83,2057.07 1835.83,2148.28 1824.47,2149.17 1813.12,2150.06 1801.76,2150.97 1790.41,2151.88 1779.05,2152.8 1767.7,2153.74 1756.34,2154.69 1744.99,2155.66 1733.63,2156.65 1722.28,2157.66 1710.92,2158.7 1699.56,2159.77 1688.21,2160.87 1676.85,2162.03 1665.5,2163.23 1654.14,2164.5 1642.79,2165.85 1631.43,2167.29 1620.08,2168.85 1608.72,2170.54 1597.37,2172.39 1586.01,2174.43 1574.66,2176.66 1563.3,2179.12 1551.94,2181.8 1540.59,2184.71 1529.23,2187.82 1517.88,2191.12 1506.52,2194.58 1495.17,2198.18 1483.81,2201.9 1472.46,2205.71 1461.1,2209.61 1449.75,2213.57 1438.39,2217.59 1427.04,2221.66 1415.68,2225.76 1404.32,2229.9 1392.97,2234.06 1381.61,2238.25" fill="#999999" fill-opacity="0.4"/>
<line x1="1381.61" y1="2206.28" x2="1835.83" y2="2102.68" stroke="#d8e8e8" stroke-width="4.5"/>
<line x1="1359.1" y1="1990.4" x2="1359.1" y2="2432" stroke="#000" stroke-width="2"/>
<line x1="1358.1" y1="2431" x2="1859" y2="2431" stroke="#000" stroke-width="2.2"/>
<line x1="1387" y1="2431" x2="1387" y2="2436.3" stroke="#333" stroke-width="1.8"/>
<text x="1387" y="2462.8" font-size="30.5" text-anchor="middle" fill="#4d4d4d">-2</text>
<line x1="1475.3" y1="2431" x2="1475.3" y2="2436.3" stroke="#333" stroke-width="1.8"/>
<text x="1475.3" y="2462.8" font-size="30.5" text-anchor="middle" fill="#4d4d4d">-1</text>
<line x1="1563.6" y1="2431" x2="1563.6" y2="2436.3" stroke="#333" stroke-width="1.8"/>
<text x="1563.6" y="2462.8" font-size="30.5" text-anchor="middle" fill="#4d4d4d">0</text>
<line x1="1651.9" y1="2431" x2="1651.9" y2="2436.3" stroke="#333" stroke-width="1.8"/>
<text x="1651.9" y="2462.8" font-size="30.5" text-anchor="middle" fill="#4d4d4d">1</text>
<line x1="1740.2" y1="2431" x2="1740.2" y2="2436.3" stroke="#333" stroke-width="1.8"/>
<text x="1740.2" y="2462.8" font-size="30.5" text-anchor="middle" fill="#4d4d4d">2</text>
<line x1="1828.5" y1="2431" x2="1828.5" y2="2436.3" stroke="#333" stroke-width="1.8"/>
<text x="1828.5" y="2462.8" font-size="30.5" text-anchor="middle" fill="#4d4d4d">3</text>
<line x1="1353.8" y1="2396.5" x2="1359.1" y2="2396.5" stroke="#333" stroke-width="1.8"/>
<text x="1348.6" y="2408.2" font-size="30.5" text-anchor="end" fill="#4d4d4d">-3</text>
<line x1="1353.8" y1="2319.3" x2="1359.1" y2="2319.3" stroke="#333" stroke-width="1.8"/>
<text x="1348.6" y="2331" font-size="30.5" text-anchor="end" fill="#4d4d4d">-2</text>
<line x1="1353.8" y1="2242.1" x2="1359.1" y2="2242.1" stroke="#333" stroke-width="1.8"/>
<text x="1348.6" y="2253.8" font-size="30.5" text-anchor="end" fill="#4d4d4d">-1</text>
<line x1="1353.8" y1="2164.9" x2="1359.1" y2="2164.9" stroke="#333" stroke-width="1.8"/>
<text x="1348.6" y="2176.6" font-size="30.5" text-anchor="end" fill="#4d4d4d">0</text>
<line x1="1353.8" y1="2087.7" x2="1359.1" y2="2087.7" stroke="#333" stroke-width="1.8"/>
<text x="1348.6" y="2099.4" font-size="30.5" text-anchor="end" fill="#4d4d4d">1</text>
<line x1="1353.8" y1="2010.5" x2="1359.1" y2="2010.5" stroke="#333" stroke-width="1.8"/>
<text x="1348.6" y="2022.2" font-size="30.5" text-anchor="end" fill="#4d4d4d">2</text>
<text x="1608.8" y="1971.5" font-size="33.4" text-anchor="middle" fill="#000">r = 0.26, p = 0.005</text>
<text x="1609.05" y="2494.2" font-size="29.4" text-anchor="middle" fill="#000">Mood VAS scores (zscored)</text>
<text x="1311" y="2211.5" font-size="29" text-anchor="middle" fill="#000" transform="rotate(-90 1311 2211.5)">Anxiety VAS scores (zscored)</text>
</svg>
</body></html>
